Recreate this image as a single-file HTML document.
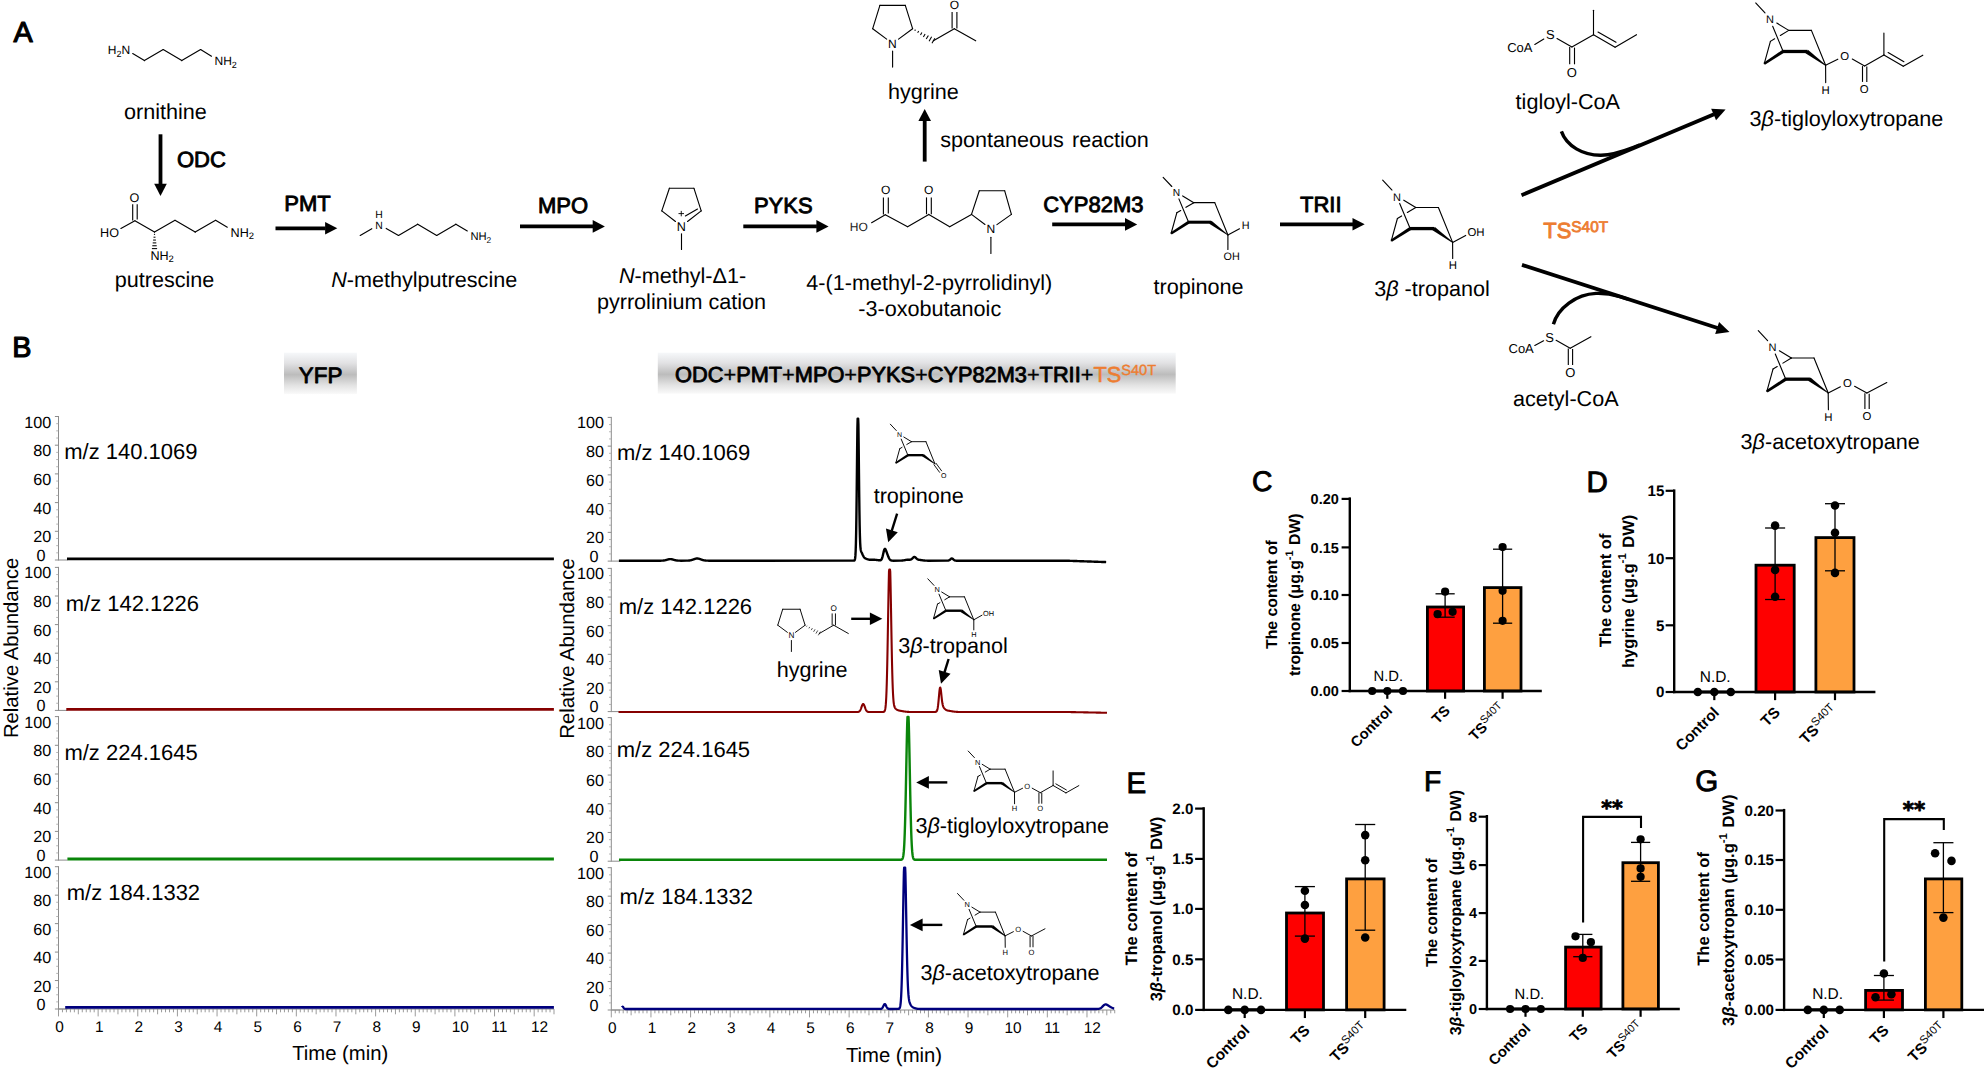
<!DOCTYPE html>
<html lang="en"><head><meta charset="utf-8"><title>Figure</title>
<style>html,body{margin:0;padding:0;background:#fff}svg{display:block}text{font-family:'Liberation Sans', Arial, sans-serif;white-space:pre}</style></head>
<body>
<svg width="1984" height="1069" viewBox="0 0 1984 1069" text-rendering="geometricPrecision">
<rect width="1984" height="1069" fill="#fff"/>
<text x="13.6" y="42.2" font-size="28.8" stroke="#000" stroke-width="1.15" stroke-linejoin="round">A</text>
<text x="107.8" y="54.4" font-size="12">H<tspan font-size="9" dy="2.64">2</tspan><tspan dy="-2.64">N</tspan></text>
<line x1="132.7" y1="53.5" x2="144.4" y2="60.6" stroke="#000" stroke-width="1.12" stroke-linecap="round"/>
<line x1="144.4" y1="60.6" x2="163.2" y2="49.5" stroke="#000" stroke-width="1.12" stroke-linecap="round"/>
<line x1="163.2" y1="49.5" x2="181.8" y2="60.6" stroke="#000" stroke-width="1.12" stroke-linecap="round"/>
<line x1="181.8" y1="60.6" x2="200.6" y2="49.5" stroke="#000" stroke-width="1.12" stroke-linecap="round"/>
<line x1="200.6" y1="49.5" x2="211.5" y2="56.2" stroke="#000" stroke-width="1.12" stroke-linecap="round"/>
<text x="214.5" y="65" font-size="12">NH<tspan font-size="9" dy="2.64">2</tspan></text>
<text x="165.4" y="119.3" font-size="21.6" text-anchor="middle">ornithine</text>
<line x1="160.5" y1="134.3" x2="160.5" y2="184.3" stroke="#000" stroke-width="3.8"/>
<polygon points="160.5,196 154.2,183.8 166.8,183.8" fill="#000"/>
<text x="176.9" y="166.6" font-size="22" stroke="#000" stroke-width="0.88" stroke-linejoin="round">ODC</text>
<text x="134.5" y="201.51" font-size="12.6" text-anchor="middle">O</text>
<line x1="132.7" y1="204.3" x2="132.7" y2="220.6" stroke="#000" stroke-width="1.12"/>
<line x1="137.2" y1="204.3" x2="137.2" y2="219.4" stroke="#000" stroke-width="1.12"/>
<line x1="134.9" y1="220.8" x2="120.9" y2="228.5" stroke="#000" stroke-width="1.12" stroke-linecap="round"/>
<text x="100.1" y="236.6" font-size="12.6">HO</text>
<line x1="134.9" y1="220.8" x2="154.5" y2="232.1" stroke="#000" stroke-width="1.12" stroke-linecap="round"/>
<line x1="154.5" y1="232.1" x2="175" y2="220.3" stroke="#000" stroke-width="1.12" stroke-linecap="round"/>
<line x1="175" y1="220.3" x2="195.2" y2="232.1" stroke="#000" stroke-width="1.12" stroke-linecap="round"/>
<line x1="195.2" y1="232.1" x2="215.6" y2="220.3" stroke="#000" stroke-width="1.12" stroke-linecap="round"/>
<line x1="215.6" y1="220.3" x2="227.3" y2="227.2" stroke="#000" stroke-width="1.12" stroke-linecap="round"/>
<text x="230.6" y="236.5" font-size="12.6">NH<tspan font-size="9.45" dy="2.77">2</tspan></text>
<line x1="155.08" y1="234.34" x2="153.92" y2="234.34" stroke="#000" stroke-width="1.05"/>
<line x1="155.48" y1="237.2" x2="153.52" y2="237.2" stroke="#000" stroke-width="1.05"/>
<line x1="155.89" y1="240.05" x2="153.11" y2="240.05" stroke="#000" stroke-width="1.05"/>
<line x1="156.29" y1="242.9" x2="152.71" y2="242.9" stroke="#000" stroke-width="1.05"/>
<line x1="156.7" y1="245.75" x2="152.3" y2="245.75" stroke="#000" stroke-width="1.05"/>
<line x1="157.1" y1="248.6" x2="151.9" y2="248.6" stroke="#000" stroke-width="1.05"/>
<text x="150.4" y="259.7" font-size="12.6">NH<tspan font-size="9.45" dy="2.77">2</tspan></text>
<text x="164.5" y="286.7" font-size="21.6" text-anchor="middle">putrescine</text>
<line x1="275.5" y1="228.3" x2="325.6" y2="228.3" stroke="#000" stroke-width="3.8"/>
<polygon points="337.3,228.3 325.1,234.6 325.1,222" fill="#000"/>
<text x="284.3" y="210.5" font-size="22" stroke="#000" stroke-width="0.88" stroke-linejoin="round">PMT</text>
<text x="378.9" y="217.52" font-size="10.4" text-anchor="middle">H</text>
<text x="378.9" y="228.62" font-size="10.4" text-anchor="middle">N</text>
<line x1="360.2" y1="235.5" x2="371.8" y2="228.7" stroke="#000" stroke-width="1.12" stroke-linecap="round"/>
<line x1="386.2" y1="228.4" x2="398.5" y2="235.5" stroke="#000" stroke-width="1.12" stroke-linecap="round"/>
<line x1="398.5" y1="235.5" x2="417.7" y2="224.2" stroke="#000" stroke-width="1.12" stroke-linecap="round"/>
<line x1="417.7" y1="224.2" x2="436.7" y2="235.5" stroke="#000" stroke-width="1.12" stroke-linecap="round"/>
<line x1="436.7" y1="235.5" x2="455.9" y2="224.2" stroke="#000" stroke-width="1.12" stroke-linecap="round"/>
<line x1="455.9" y1="224.2" x2="467.3" y2="230.9" stroke="#000" stroke-width="1.12" stroke-linecap="round"/>
<text x="470.4" y="240.2" font-size="11.2">NH<tspan font-size="8.4" dy="2.46">2</tspan></text>
<text x="331.2" y="287" font-size="21.6"><tspan font-style="italic">N</tspan>-methylputrescine</text>
<line x1="520" y1="226.4" x2="593.2" y2="226.4" stroke="#000" stroke-width="3.8"/>
<polygon points="604.9,226.4 592.7,232.7 592.7,220.1" fill="#000"/>
<text x="537.9" y="212.8" font-size="22" stroke="#000" stroke-width="0.88" stroke-linejoin="round">MPO</text>
<line x1="669.4" y1="188.2" x2="693.9" y2="188.2" stroke="#000" stroke-width="1.12" stroke-linecap="round"/>
<line x1="693.9" y1="188.2" x2="701.2" y2="210.9" stroke="#000" stroke-width="1.12" stroke-linecap="round"/>
<line x1="669.4" y1="188.2" x2="661.8" y2="210.9" stroke="#000" stroke-width="1.12" stroke-linecap="round"/>
<line x1="661.8" y1="210.9" x2="675.48" y2="221.46" stroke="#000" stroke-width="1.12" stroke-linecap="round"/>
<line x1="701.2" y1="210.9" x2="687.52" y2="221.46" stroke="#000" stroke-width="1.12" stroke-linecap="round"/>
<line x1="697.5" y1="209" x2="685.4" y2="216" stroke="#000" stroke-width="1.12" stroke-linecap="round"/>
<text x="681.3" y="230.71" font-size="12.6" text-anchor="middle">N</text>
<line x1="678.5" y1="213.6" x2="684" y2="213.6" stroke="#000" stroke-width="0.9"/>
<line x1="681.25" y1="210.9" x2="681.25" y2="216.3" stroke="#000" stroke-width="0.9"/>
<line x1="681.5" y1="233.8" x2="681.5" y2="249.5" stroke="#000" stroke-width="1.12" stroke-linecap="round"/>
<text x="682.5" y="282.9" font-size="21.6" text-anchor="middle"><tspan font-style="italic">N</tspan>-methyl-Δ1-</text>
<text x="681.5" y="308.6" font-size="21.6" text-anchor="middle">pyrrolinium cation</text>
<line x1="743.3" y1="226.4" x2="816.9" y2="226.4" stroke="#000" stroke-width="3.8"/>
<polygon points="828.6,226.4 816.4,232.7 816.4,220.1" fill="#000"/>
<text x="753.9" y="213.1" font-size="22" stroke="#000" stroke-width="0.88" stroke-linejoin="round">PYKS</text>
<text x="849.8" y="230.7" font-size="12" fill="#222">HO</text>
<line x1="871.6" y1="222.7" x2="885.3" y2="214.8" stroke="#000" stroke-width="1.12" stroke-linecap="round"/>
<line x1="883.4" y1="197.4" x2="883.4" y2="214.6" stroke="#000" stroke-width="1.12"/>
<line x1="888.3" y1="197.4" x2="888.3" y2="213.4" stroke="#000" stroke-width="1.12"/>
<text x="885.7" y="194.2" font-size="12" text-anchor="middle">O</text>
<line x1="885.3" y1="214.8" x2="907.6" y2="226.7" stroke="#000" stroke-width="1.12" stroke-linecap="round"/>
<line x1="907.6" y1="226.7" x2="928.8" y2="214.4" stroke="#000" stroke-width="1.12" stroke-linecap="round"/>
<line x1="928.8" y1="214.4" x2="949.7" y2="226.7" stroke="#000" stroke-width="1.12" stroke-linecap="round"/>
<line x1="949.7" y1="226.7" x2="971.5" y2="214.4" stroke="#000" stroke-width="1.12" stroke-linecap="round"/>
<line x1="926.5" y1="197.4" x2="926.5" y2="214.2" stroke="#000" stroke-width="1.12"/>
<line x1="931.3" y1="197.4" x2="931.3" y2="214.2" stroke="#000" stroke-width="1.12"/>
<text x="928.6" y="194.2" font-size="12" text-anchor="middle">O</text>
<line x1="971.5" y1="214.4" x2="979.3" y2="190.8" stroke="#000" stroke-width="1.12" stroke-linecap="round"/>
<line x1="979.3" y1="190.8" x2="1004.7" y2="190.8" stroke="#000" stroke-width="1.12" stroke-linecap="round"/>
<line x1="1004.7" y1="190.8" x2="1011.4" y2="214.4" stroke="#000" stroke-width="1.12" stroke-linecap="round"/>
<line x1="971.5" y1="214.4" x2="984.97" y2="224.47" stroke="#000" stroke-width="1.12" stroke-linecap="round"/>
<line x1="1011.4" y1="214.4" x2="996.94" y2="224.63" stroke="#000" stroke-width="1.12" stroke-linecap="round"/>
<text x="990.9" y="233.1" font-size="12" text-anchor="middle">N</text>
<line x1="990.9" y1="237.2" x2="990.9" y2="253.4" stroke="#000" stroke-width="1.12" stroke-linecap="round"/>
<text x="929.3" y="289.7" font-size="21.6" text-anchor="middle">4-(1-methyl-2-pyrrolidinyl)</text>
<text x="929.8" y="315.6" font-size="21.6" text-anchor="middle">-3-oxobutanoic</text>
<line x1="1052.2" y1="224.4" x2="1125.5" y2="224.4" stroke="#000" stroke-width="3.8"/>
<polygon points="1137.2,224.4 1125,230.7 1125,218.1" fill="#000"/>
<text x="1043.2" y="211.6" font-size="22" stroke="#000" stroke-width="0.88" stroke-linejoin="round">CYP82M3</text>
<line x1="879.9" y1="5.4" x2="905.3" y2="5.4" stroke="#000" stroke-width="1.12" stroke-linecap="round"/>
<line x1="905.3" y1="5.4" x2="912.6" y2="28.7" stroke="#000" stroke-width="1.12" stroke-linecap="round"/>
<line x1="879.9" y1="5.4" x2="872.7" y2="28.7" stroke="#000" stroke-width="1.12" stroke-linecap="round"/>
<line x1="872.7" y1="28.7" x2="886.66" y2="39.08" stroke="#000" stroke-width="1.12" stroke-linecap="round"/>
<line x1="912.6" y1="28.7" x2="898.55" y2="39.1" stroke="#000" stroke-width="1.12" stroke-linecap="round"/>
<text x="892.4" y="47.5" font-size="12" text-anchor="middle">N</text>
<line x1="892.6" y1="51" x2="892.6" y2="67.1" stroke="#000" stroke-width="1.12" stroke-linecap="round"/>
<line x1="915.4" y1="29.62" x2="914.79" y2="30.68" stroke="#000" stroke-width="1.05"/>
<line x1="918.65" y1="31.07" x2="917.65" y2="32.79" stroke="#000" stroke-width="1.05"/>
<line x1="921.89" y1="32.51" x2="920.51" y2="34.89" stroke="#000" stroke-width="1.05"/>
<line x1="925.13" y1="33.96" x2="923.37" y2="36.99" stroke="#000" stroke-width="1.05"/>
<line x1="928.37" y1="35.4" x2="926.22" y2="39.1" stroke="#000" stroke-width="1.05"/>
<line x1="931.62" y1="36.85" x2="929.08" y2="41.2" stroke="#000" stroke-width="1.05"/>
<line x1="934.86" y1="38.29" x2="931.94" y2="43.31" stroke="#000" stroke-width="1.05"/>
<line x1="933.4" y1="40.8" x2="954.3" y2="28.7" stroke="#000" stroke-width="1.12" stroke-linecap="round"/>
<line x1="954.3" y1="28.7" x2="975.7" y2="40.8" stroke="#000" stroke-width="1.12" stroke-linecap="round"/>
<line x1="952.1" y1="11.9" x2="952.1" y2="28.4" stroke="#000" stroke-width="1.12"/>
<line x1="956.9" y1="11.9" x2="956.9" y2="28.4" stroke="#000" stroke-width="1.12"/>
<text x="954.4" y="8.5" font-size="12" text-anchor="middle">O</text>
<text x="923.4" y="98.9" font-size="21.6" text-anchor="middle">hygrine</text>
<line x1="924.7" y1="161.6" x2="924.7" y2="120.6" stroke="#000" stroke-width="3.8"/>
<polygon points="924.7,108.9 931,121.1 918.4,121.1" fill="#000"/>
<text x="940.2" y="146.6" font-size="21.6" word-spacing="2.2">spontaneous reaction</text>
<line x1="1163.15" y1="177.3" x2="1171.8" y2="186.5" stroke="#000" stroke-width="1.12" stroke-linecap="round"/>
<text x="1176.4" y="196.25" font-size="10.2" text-anchor="middle">N</text>
<line x1="1182.7" y1="195.9" x2="1193.8" y2="202.65" stroke="#000" stroke-width="1.12" stroke-linecap="round"/>
<line x1="1193.8" y1="202.65" x2="1214.75" y2="202.65" stroke="#000" stroke-width="1.12" stroke-linecap="round"/>
<line x1="1214.75" y1="202.65" x2="1227.9" y2="235" stroke="#000" stroke-width="1.12" stroke-linecap="round"/>
<line x1="1178.9" y1="198.9" x2="1188.6" y2="222.2" stroke="#000" stroke-width="1.12" stroke-linecap="round"/>
<line x1="1193.8" y1="202.65" x2="1185.98" y2="207.34" stroke="#000" stroke-width="1.12" stroke-linecap="round"/>
<line x1="1180.71" y1="210.5" x2="1176.8" y2="212.85" stroke="#000" stroke-width="1.12" stroke-linecap="round"/>
<line x1="1176.8" y1="212.85" x2="1171.1" y2="233.5" stroke="#000" stroke-width="1.12" stroke-linecap="round"/>
<polygon points="1171.72,234.46 1189.43,223.48 1187.77,220.92 1170.48,232.54" fill="#000"/>
<line x1="1188.14" y1="222.2" x2="1211.01" y2="222.2" stroke="#000" stroke-width="3.05"/>
<polygon points="1209.27,223.74 1227.64,235.36 1228.16,234.64 1211.53,220.66" fill="#000"/>
<line x1="1227.9" y1="235" x2="1239.5" y2="228.8" stroke="#000" stroke-width="1.12" stroke-linecap="round"/>
<text x="1245.6" y="229.27" font-size="10.8" text-anchor="middle">H</text>
<line x1="1227.9" y1="235" x2="1227.9" y2="249.4" stroke="#000" stroke-width="1.12" stroke-linecap="round"/>
<text x="1223.6" y="259.7" font-size="10.8">OH</text>
<text x="1198.5" y="293.8" font-size="21.6" text-anchor="middle">tropinone</text>
<line x1="1280" y1="224.3" x2="1353" y2="224.3" stroke="#000" stroke-width="3.8"/>
<polygon points="1364.7,224.3 1352.5,230.6 1352.5,218" fill="#000"/>
<text x="1300" y="211.7" font-size="22" stroke="#000" stroke-width="0.88" stroke-linejoin="round">TRII</text>
<line x1="1382.67" y1="180.08" x2="1392.01" y2="190.02" stroke="#000" stroke-width="1.12" stroke-linecap="round"/>
<text x="1396.98" y="200.55" font-size="11" text-anchor="middle">N</text>
<line x1="1403.78" y1="200.17" x2="1415.77" y2="207.46" stroke="#000" stroke-width="1.12" stroke-linecap="round"/>
<line x1="1415.77" y1="207.46" x2="1438.4" y2="207.46" stroke="#000" stroke-width="1.12" stroke-linecap="round"/>
<line x1="1438.4" y1="207.46" x2="1452.6" y2="242.4" stroke="#000" stroke-width="1.12" stroke-linecap="round"/>
<line x1="1399.68" y1="203.41" x2="1410.16" y2="228.58" stroke="#000" stroke-width="1.12" stroke-linecap="round"/>
<line x1="1415.77" y1="207.46" x2="1407.33" y2="212.53" stroke="#000" stroke-width="1.12" stroke-linecap="round"/>
<line x1="1401.63" y1="215.94" x2="1397.41" y2="218.48" stroke="#000" stroke-width="1.12" stroke-linecap="round"/>
<line x1="1397.41" y1="218.48" x2="1391.26" y2="240.78" stroke="#000" stroke-width="1.12" stroke-linecap="round"/>
<polygon points="1391.93,241.82 1411.05,229.96 1409.26,227.19 1390.59,239.74" fill="#000"/>
<line x1="1409.66" y1="228.58" x2="1434.36" y2="228.58" stroke="#000" stroke-width="3.29"/>
<polygon points="1432.48,230.24 1452.34,242.76 1452.86,242.04 1434.92,226.91" fill="#000"/>
<line x1="1452.6" y1="242.4" x2="1465.7" y2="235.4" stroke="#000" stroke-width="1.12" stroke-linecap="round"/>
<text x="1467.4" y="236.4" font-size="11.4">OH</text>
<line x1="1452.6" y1="242.4" x2="1452.7" y2="258.4" stroke="#000" stroke-width="1.12" stroke-linecap="round"/>
<text x="1452.8" y="269.28" font-size="11.4" text-anchor="middle">H</text>
<text x="1374.2" y="296.1" font-size="21.6">3<tspan font-style="italic">β</tspan> -tropanol</text>
<line x1="1521.5" y1="195.2" x2="1714.08" y2="114.24" stroke="#000" stroke-width="3.8"/>
<polygon points="1725.6,109.4 1716.06,120.25 1711.17,108.63" fill="#000"/>
<path d="M1561.4,131.4 C1566.5,146 1583,155.4 1601,155.2 C1611,155.1 1621,152.2 1633,147.6 L1640,144.8" fill="none" stroke="#000" stroke-width="3.4" stroke-linejoin="round" stroke-linecap="butt"/>
<line x1="1522" y1="264.9" x2="1717.6" y2="328.06" stroke="#000" stroke-width="3.8"/>
<polygon points="1729.5,331.9 1715.19,333.9 1719.06,321.91" fill="#000"/>
<path d="M1553.4,324.2 C1558,308 1576,294.3 1596,293.4 C1604,293.1 1612,294.3 1620,296.7 L1628,299.2" fill="none" stroke="#000" stroke-width="3.4" stroke-linejoin="round" stroke-linecap="butt"/>
<text x="1543.2" y="238.3" font-size="22" fill="#ED7D31" stroke="#ED7D31" stroke-width="0.88" stroke-linejoin="round">TS<tspan font-size="15.4" dy="-6.3" stroke-width="0.8">S40T</tspan></text>
<text x="1507.2" y="52.2" font-size="13">CoA</text>
<line x1="1534.8" y1="44.5" x2="1543.8" y2="39.1" stroke="#000" stroke-width="1.12" stroke-linecap="round"/>
<text x="1550.4" y="39.35" font-size="13" text-anchor="middle">S</text>
<line x1="1557" y1="38.6" x2="1571.9" y2="46.9" stroke="#000" stroke-width="1.12" stroke-linecap="round"/>
<line x1="1569.7" y1="47.1" x2="1569.7" y2="64.3" stroke="#000" stroke-width="1.12"/>
<line x1="1574.5" y1="47.6" x2="1574.5" y2="64.3" stroke="#000" stroke-width="1.12"/>
<text x="1571.9" y="76.85" font-size="13" text-anchor="middle">O</text>
<line x1="1571.9" y1="46.9" x2="1593.5" y2="34.7" stroke="#000" stroke-width="1.12" stroke-linecap="round"/>
<line x1="1593.5" y1="34.7" x2="1593.5" y2="10.2" stroke="#000" stroke-width="1.12" stroke-linecap="round"/>
<line x1="1593.5" y1="34.7" x2="1615.1" y2="47.2" stroke="#000" stroke-width="1.12" stroke-linecap="round"/>
<line x1="1615.1" y1="47.2" x2="1636.5" y2="34.7" stroke="#000" stroke-width="1.12" stroke-linecap="round"/>
<line x1="1598" y1="32" x2="1616" y2="42.3" stroke="#000" stroke-width="1.12" stroke-linecap="round"/>
<text x="1567.8" y="108.8" font-size="21.6" text-anchor="middle">tigloyl-CoA</text>
<line x1="1755.67" y1="2.98" x2="1765.01" y2="12.92" stroke="#000" stroke-width="1.12" stroke-linecap="round"/>
<text x="1769.98" y="23.45" font-size="11" text-anchor="middle">N</text>
<line x1="1776.78" y1="23.07" x2="1788.77" y2="30.36" stroke="#000" stroke-width="1.12" stroke-linecap="round"/>
<line x1="1788.77" y1="30.36" x2="1811.4" y2="30.36" stroke="#000" stroke-width="1.12" stroke-linecap="round"/>
<line x1="1811.4" y1="30.36" x2="1825.6" y2="65.3" stroke="#000" stroke-width="1.12" stroke-linecap="round"/>
<line x1="1772.68" y1="26.31" x2="1783.16" y2="51.48" stroke="#000" stroke-width="1.12" stroke-linecap="round"/>
<line x1="1788.77" y1="30.36" x2="1780.33" y2="35.43" stroke="#000" stroke-width="1.12" stroke-linecap="round"/>
<line x1="1774.63" y1="38.84" x2="1770.41" y2="41.38" stroke="#000" stroke-width="1.12" stroke-linecap="round"/>
<line x1="1770.41" y1="41.38" x2="1764.26" y2="63.68" stroke="#000" stroke-width="1.12" stroke-linecap="round"/>
<polygon points="1764.93,64.72 1784.05,52.86 1782.26,50.09 1763.59,62.64" fill="#000"/>
<line x1="1782.66" y1="51.48" x2="1807.36" y2="51.48" stroke="#000" stroke-width="3.29"/>
<polygon points="1805.48,53.14 1825.34,65.66 1825.86,64.94 1807.92,49.81" fill="#000"/>
<line x1="1825.6" y1="65.3" x2="1837.8" y2="59.2" stroke="#000" stroke-width="1.12" stroke-linecap="round"/>
<text x="1844.8" y="59.78" font-size="11.4" text-anchor="middle">O</text>
<line x1="1852.3" y1="59.1" x2="1864.6" y2="65.9" stroke="#000" stroke-width="1.12" stroke-linecap="round"/>
<line x1="1862.5" y1="66.1" x2="1862.5" y2="81.9" stroke="#000" stroke-width="1.12"/>
<line x1="1866.8" y1="66.6" x2="1866.8" y2="81.9" stroke="#000" stroke-width="1.12"/>
<text x="1864.3" y="93.28" font-size="11.4" text-anchor="middle">O</text>
<line x1="1864.6" y1="65.9" x2="1883.9" y2="55" stroke="#000" stroke-width="1.12" stroke-linecap="round"/>
<line x1="1883.9" y1="55" x2="1883.9" y2="33" stroke="#000" stroke-width="1.12" stroke-linecap="round"/>
<line x1="1883.9" y1="55" x2="1903.3" y2="66.2" stroke="#000" stroke-width="1.12" stroke-linecap="round"/>
<line x1="1903.3" y1="66.2" x2="1922.8" y2="55.2" stroke="#000" stroke-width="1.12" stroke-linecap="round"/>
<line x1="1888.1" y1="52.6" x2="1903.9" y2="61.7" stroke="#000" stroke-width="1.12" stroke-linecap="round"/>
<line x1="1825.6" y1="65.3" x2="1825.7" y2="82.6" stroke="#000" stroke-width="1.12" stroke-linecap="round"/>
<text x="1825.7" y="93.58" font-size="11.4" text-anchor="middle">H</text>
<text x="1749.6" y="125.5" font-size="21.6">3<tspan font-style="italic">β</tspan>-tigloyloxytropane</text>
<text x="1508.5" y="352.8" font-size="13">CoA</text>
<line x1="1534.8" y1="345.5" x2="1543.6" y2="340.8" stroke="#000" stroke-width="1.12" stroke-linecap="round"/>
<text x="1549.7" y="341.65" font-size="13" text-anchor="middle">S</text>
<line x1="1556.1" y1="340.3" x2="1570.2" y2="348.2" stroke="#000" stroke-width="1.12" stroke-linecap="round"/>
<line x1="1568.3" y1="348.4" x2="1568.3" y2="364.9" stroke="#000" stroke-width="1.12"/>
<line x1="1572.6" y1="348.9" x2="1572.6" y2="364.9" stroke="#000" stroke-width="1.12"/>
<text x="1570.2" y="376.85" font-size="13" text-anchor="middle">O</text>
<line x1="1570.2" y1="348.2" x2="1590.9" y2="336.7" stroke="#000" stroke-width="1.12" stroke-linecap="round"/>
<text x="1565.8" y="405.5" font-size="21.6" text-anchor="middle">acetyl-CoA</text>
<line x1="1758.27" y1="330.68" x2="1767.61" y2="340.62" stroke="#000" stroke-width="1.12" stroke-linecap="round"/>
<text x="1772.58" y="351.15" font-size="11" text-anchor="middle">N</text>
<line x1="1779.38" y1="350.77" x2="1791.37" y2="358.06" stroke="#000" stroke-width="1.12" stroke-linecap="round"/>
<line x1="1791.37" y1="358.06" x2="1814" y2="358.06" stroke="#000" stroke-width="1.12" stroke-linecap="round"/>
<line x1="1814" y1="358.06" x2="1828.2" y2="393" stroke="#000" stroke-width="1.12" stroke-linecap="round"/>
<line x1="1775.28" y1="354.01" x2="1785.76" y2="379.18" stroke="#000" stroke-width="1.12" stroke-linecap="round"/>
<line x1="1791.37" y1="358.06" x2="1782.93" y2="363.13" stroke="#000" stroke-width="1.12" stroke-linecap="round"/>
<line x1="1777.23" y1="366.54" x2="1773.01" y2="369.08" stroke="#000" stroke-width="1.12" stroke-linecap="round"/>
<line x1="1773.01" y1="369.08" x2="1766.86" y2="391.38" stroke="#000" stroke-width="1.12" stroke-linecap="round"/>
<polygon points="1767.53,392.42 1786.65,380.56 1784.86,377.79 1766.19,390.34" fill="#000"/>
<line x1="1785.26" y1="379.18" x2="1809.96" y2="379.18" stroke="#000" stroke-width="3.29"/>
<polygon points="1808.08,380.84 1827.94,393.36 1828.46,392.64 1810.52,377.51" fill="#000"/>
<line x1="1828.2" y1="393" x2="1840.4" y2="386.8" stroke="#000" stroke-width="1.12" stroke-linecap="round"/>
<text x="1847.4" y="387.28" font-size="11.4" text-anchor="middle">O</text>
<line x1="1854.6" y1="386.3" x2="1866.9" y2="393.1" stroke="#000" stroke-width="1.12" stroke-linecap="round"/>
<line x1="1864.9" y1="393.3" x2="1864.9" y2="409.1" stroke="#000" stroke-width="1.12"/>
<line x1="1869.2" y1="393.8" x2="1869.2" y2="409.1" stroke="#000" stroke-width="1.12"/>
<text x="1866.9" y="420.48" font-size="11.4" text-anchor="middle">O</text>
<line x1="1866.9" y1="393.1" x2="1886.8" y2="382.6" stroke="#000" stroke-width="1.12" stroke-linecap="round"/>
<line x1="1828.2" y1="393" x2="1828.4" y2="409.8" stroke="#000" stroke-width="1.12" stroke-linecap="round"/>
<text x="1828.4" y="420.78" font-size="11.4" text-anchor="middle">H</text>
<text x="1740.6" y="449.1" font-size="21.6">3<tspan font-style="italic">β</tspan>-acetoxytropane</text>
<text x="12.3" y="357.1" font-size="28.8" stroke="#000" stroke-width="1.15" stroke-linejoin="round">B</text>
<defs><linearGradient id="g1" x1="0" y1="0" x2="0" y2="1"><stop offset="0" stop-color="#f6f8fa"/><stop offset="0.25" stop-color="#e2e2e4"/><stop offset="0.53" stop-color="#bcbcbc"/><stop offset="0.8" stop-color="#e4e4e4"/><stop offset="1" stop-color="#fafafa"/></linearGradient></defs>
<rect x="284" y="352.7" width="72.9" height="41.4" fill="url(#g1)"/>
<text x="320.6" y="382.9" font-size="22.4" text-anchor="middle" stroke="#000" stroke-width="0.9" stroke-linejoin="round">YFP</text>
<defs><linearGradient id="g2" x1="0" y1="0" x2="0" y2="1"><stop offset="0" stop-color="#f6f8fa"/><stop offset="0.25" stop-color="#e2e2e4"/><stop offset="0.53" stop-color="#bcbcbc"/><stop offset="0.8" stop-color="#e4e4e4"/><stop offset="1" stop-color="#fafafa"/></linearGradient></defs>
<rect x="657.8" y="352.7" width="517.9" height="41" fill="url(#g2)"/>
<text x="675.1" y="382.2" font-size="21.75" stroke="#000" stroke-width="0.87" stroke-linejoin="round">ODC<tspan stroke-width="0.3">+</tspan>PMT<tspan stroke-width="0.3">+</tspan>MPO<tspan stroke-width="0.3">+</tspan>PYKS<tspan stroke-width="0.3">+</tspan>CYP82M3<tspan stroke-width="0.3">+</tspan>TRII<tspan stroke-width="0.3">+</tspan><tspan fill="#ED7D31" stroke="#ED7D31" stroke-width="0.6">TS<tspan font-size="14.6" dy="-7.0" stroke-width="0.4">S40T</tspan></tspan></text>
<line x1="58.5" y1="416" x2="58.5" y2="560.5" stroke="#8c8c8c" stroke-width="1"/>
<line x1="58.5" y1="560" x2="67.5" y2="560" stroke="#8c8c8c" stroke-width="1"/>
<line x1="54.9" y1="416.5" x2="58.5" y2="416.5" stroke="#8c8c8c" stroke-width="1"/>
<line x1="56.2" y1="423.68" x2="58.5" y2="423.68" stroke="#a5a5a5" stroke-width="0.8"/>
<line x1="56.2" y1="430.85" x2="58.5" y2="430.85" stroke="#a5a5a5" stroke-width="0.8"/>
<line x1="56.2" y1="438.02" x2="58.5" y2="438.02" stroke="#a5a5a5" stroke-width="0.8"/>
<line x1="54.9" y1="445.2" x2="58.5" y2="445.2" stroke="#8c8c8c" stroke-width="1"/>
<line x1="56.2" y1="452.38" x2="58.5" y2="452.38" stroke="#a5a5a5" stroke-width="0.8"/>
<line x1="56.2" y1="459.55" x2="58.5" y2="459.55" stroke="#a5a5a5" stroke-width="0.8"/>
<line x1="56.2" y1="466.73" x2="58.5" y2="466.73" stroke="#a5a5a5" stroke-width="0.8"/>
<line x1="54.9" y1="473.9" x2="58.5" y2="473.9" stroke="#8c8c8c" stroke-width="1"/>
<line x1="56.2" y1="481.07" x2="58.5" y2="481.07" stroke="#a5a5a5" stroke-width="0.8"/>
<line x1="56.2" y1="488.25" x2="58.5" y2="488.25" stroke="#a5a5a5" stroke-width="0.8"/>
<line x1="56.2" y1="495.43" x2="58.5" y2="495.43" stroke="#a5a5a5" stroke-width="0.8"/>
<line x1="54.9" y1="502.6" x2="58.5" y2="502.6" stroke="#8c8c8c" stroke-width="1"/>
<line x1="56.2" y1="509.77" x2="58.5" y2="509.77" stroke="#a5a5a5" stroke-width="0.8"/>
<line x1="56.2" y1="516.95" x2="58.5" y2="516.95" stroke="#a5a5a5" stroke-width="0.8"/>
<line x1="56.2" y1="524.12" x2="58.5" y2="524.12" stroke="#a5a5a5" stroke-width="0.8"/>
<line x1="54.9" y1="531.3" x2="58.5" y2="531.3" stroke="#8c8c8c" stroke-width="1"/>
<line x1="56.2" y1="538.48" x2="58.5" y2="538.48" stroke="#a5a5a5" stroke-width="0.8"/>
<line x1="56.2" y1="545.65" x2="58.5" y2="545.65" stroke="#a5a5a5" stroke-width="0.8"/>
<line x1="56.2" y1="552.83" x2="58.5" y2="552.83" stroke="#a5a5a5" stroke-width="0.8"/>
<line x1="54.9" y1="560" x2="58.5" y2="560" stroke="#8c8c8c" stroke-width="1"/>
<text x="51.3" y="427.5" font-size="16.2" text-anchor="end">100</text>
<text x="51.3" y="456.2" font-size="16.2" text-anchor="end">80</text>
<text x="51.3" y="484.9" font-size="16.2" text-anchor="end">60</text>
<text x="51.3" y="513.6" font-size="16.2" text-anchor="end">40</text>
<text x="51.3" y="542.3" font-size="16.2" text-anchor="end">20</text>
<text x="45.6" y="560.6" font-size="16.2" text-anchor="end">0</text>
<line x1="58.5" y1="566.9" x2="58.5" y2="710.9" stroke="#8c8c8c" stroke-width="1"/>
<line x1="58.5" y1="710.4" x2="67.5" y2="710.4" stroke="#8c8c8c" stroke-width="1"/>
<line x1="54.9" y1="567.4" x2="58.5" y2="567.4" stroke="#8c8c8c" stroke-width="1"/>
<line x1="56.2" y1="574.55" x2="58.5" y2="574.55" stroke="#a5a5a5" stroke-width="0.8"/>
<line x1="56.2" y1="581.7" x2="58.5" y2="581.7" stroke="#a5a5a5" stroke-width="0.8"/>
<line x1="56.2" y1="588.85" x2="58.5" y2="588.85" stroke="#a5a5a5" stroke-width="0.8"/>
<line x1="54.9" y1="596" x2="58.5" y2="596" stroke="#8c8c8c" stroke-width="1"/>
<line x1="56.2" y1="603.15" x2="58.5" y2="603.15" stroke="#a5a5a5" stroke-width="0.8"/>
<line x1="56.2" y1="610.3" x2="58.5" y2="610.3" stroke="#a5a5a5" stroke-width="0.8"/>
<line x1="56.2" y1="617.45" x2="58.5" y2="617.45" stroke="#a5a5a5" stroke-width="0.8"/>
<line x1="54.9" y1="624.6" x2="58.5" y2="624.6" stroke="#8c8c8c" stroke-width="1"/>
<line x1="56.2" y1="631.75" x2="58.5" y2="631.75" stroke="#a5a5a5" stroke-width="0.8"/>
<line x1="56.2" y1="638.9" x2="58.5" y2="638.9" stroke="#a5a5a5" stroke-width="0.8"/>
<line x1="56.2" y1="646.05" x2="58.5" y2="646.05" stroke="#a5a5a5" stroke-width="0.8"/>
<line x1="54.9" y1="653.2" x2="58.5" y2="653.2" stroke="#8c8c8c" stroke-width="1"/>
<line x1="56.2" y1="660.35" x2="58.5" y2="660.35" stroke="#a5a5a5" stroke-width="0.8"/>
<line x1="56.2" y1="667.5" x2="58.5" y2="667.5" stroke="#a5a5a5" stroke-width="0.8"/>
<line x1="56.2" y1="674.65" x2="58.5" y2="674.65" stroke="#a5a5a5" stroke-width="0.8"/>
<line x1="54.9" y1="681.8" x2="58.5" y2="681.8" stroke="#8c8c8c" stroke-width="1"/>
<line x1="56.2" y1="688.95" x2="58.5" y2="688.95" stroke="#a5a5a5" stroke-width="0.8"/>
<line x1="56.2" y1="696.1" x2="58.5" y2="696.1" stroke="#a5a5a5" stroke-width="0.8"/>
<line x1="56.2" y1="703.25" x2="58.5" y2="703.25" stroke="#a5a5a5" stroke-width="0.8"/>
<line x1="54.9" y1="710.4" x2="58.5" y2="710.4" stroke="#8c8c8c" stroke-width="1"/>
<text x="51.3" y="578.4" font-size="16.2" text-anchor="end">100</text>
<text x="51.3" y="607" font-size="16.2" text-anchor="end">80</text>
<text x="51.3" y="635.6" font-size="16.2" text-anchor="end">60</text>
<text x="51.3" y="664.2" font-size="16.2" text-anchor="end">40</text>
<text x="51.3" y="692.8" font-size="16.2" text-anchor="end">20</text>
<text x="45.6" y="711" font-size="16.2" text-anchor="end">0</text>
<line x1="58.5" y1="716.1" x2="58.5" y2="860.6" stroke="#8c8c8c" stroke-width="1"/>
<line x1="58.5" y1="860.1" x2="67.5" y2="860.1" stroke="#8c8c8c" stroke-width="1"/>
<line x1="54.9" y1="716.6" x2="58.5" y2="716.6" stroke="#8c8c8c" stroke-width="1"/>
<line x1="56.2" y1="723.77" x2="58.5" y2="723.77" stroke="#a5a5a5" stroke-width="0.8"/>
<line x1="56.2" y1="730.95" x2="58.5" y2="730.95" stroke="#a5a5a5" stroke-width="0.8"/>
<line x1="56.2" y1="738.12" x2="58.5" y2="738.12" stroke="#a5a5a5" stroke-width="0.8"/>
<line x1="54.9" y1="745.3" x2="58.5" y2="745.3" stroke="#8c8c8c" stroke-width="1"/>
<line x1="56.2" y1="752.48" x2="58.5" y2="752.48" stroke="#a5a5a5" stroke-width="0.8"/>
<line x1="56.2" y1="759.65" x2="58.5" y2="759.65" stroke="#a5a5a5" stroke-width="0.8"/>
<line x1="56.2" y1="766.83" x2="58.5" y2="766.83" stroke="#a5a5a5" stroke-width="0.8"/>
<line x1="54.9" y1="774" x2="58.5" y2="774" stroke="#8c8c8c" stroke-width="1"/>
<line x1="56.2" y1="781.18" x2="58.5" y2="781.18" stroke="#a5a5a5" stroke-width="0.8"/>
<line x1="56.2" y1="788.35" x2="58.5" y2="788.35" stroke="#a5a5a5" stroke-width="0.8"/>
<line x1="56.2" y1="795.52" x2="58.5" y2="795.52" stroke="#a5a5a5" stroke-width="0.8"/>
<line x1="54.9" y1="802.7" x2="58.5" y2="802.7" stroke="#8c8c8c" stroke-width="1"/>
<line x1="56.2" y1="809.88" x2="58.5" y2="809.88" stroke="#a5a5a5" stroke-width="0.8"/>
<line x1="56.2" y1="817.05" x2="58.5" y2="817.05" stroke="#a5a5a5" stroke-width="0.8"/>
<line x1="56.2" y1="824.23" x2="58.5" y2="824.23" stroke="#a5a5a5" stroke-width="0.8"/>
<line x1="54.9" y1="831.4" x2="58.5" y2="831.4" stroke="#8c8c8c" stroke-width="1"/>
<line x1="56.2" y1="838.58" x2="58.5" y2="838.58" stroke="#a5a5a5" stroke-width="0.8"/>
<line x1="56.2" y1="845.75" x2="58.5" y2="845.75" stroke="#a5a5a5" stroke-width="0.8"/>
<line x1="56.2" y1="852.92" x2="58.5" y2="852.92" stroke="#a5a5a5" stroke-width="0.8"/>
<line x1="54.9" y1="860.1" x2="58.5" y2="860.1" stroke="#8c8c8c" stroke-width="1"/>
<text x="51.3" y="727.6" font-size="16.2" text-anchor="end">100</text>
<text x="51.3" y="756.3" font-size="16.2" text-anchor="end">80</text>
<text x="51.3" y="785" font-size="16.2" text-anchor="end">60</text>
<text x="51.3" y="813.7" font-size="16.2" text-anchor="end">40</text>
<text x="51.3" y="842.4" font-size="16.2" text-anchor="end">20</text>
<text x="45.6" y="860.7" font-size="16.2" text-anchor="end">0</text>
<line x1="58.5" y1="866.2" x2="58.5" y2="1009.5" stroke="#8c8c8c" stroke-width="1"/>
<line x1="58.5" y1="1009" x2="67.5" y2="1009" stroke="#8c8c8c" stroke-width="1"/>
<line x1="54.9" y1="866.7" x2="58.5" y2="866.7" stroke="#8c8c8c" stroke-width="1"/>
<line x1="56.2" y1="873.82" x2="58.5" y2="873.82" stroke="#a5a5a5" stroke-width="0.8"/>
<line x1="56.2" y1="880.93" x2="58.5" y2="880.93" stroke="#a5a5a5" stroke-width="0.8"/>
<line x1="56.2" y1="888.05" x2="58.5" y2="888.05" stroke="#a5a5a5" stroke-width="0.8"/>
<line x1="54.9" y1="895.16" x2="58.5" y2="895.16" stroke="#8c8c8c" stroke-width="1"/>
<line x1="56.2" y1="902.28" x2="58.5" y2="902.28" stroke="#a5a5a5" stroke-width="0.8"/>
<line x1="56.2" y1="909.39" x2="58.5" y2="909.39" stroke="#a5a5a5" stroke-width="0.8"/>
<line x1="56.2" y1="916.5" x2="58.5" y2="916.5" stroke="#a5a5a5" stroke-width="0.8"/>
<line x1="54.9" y1="923.62" x2="58.5" y2="923.62" stroke="#8c8c8c" stroke-width="1"/>
<line x1="56.2" y1="930.74" x2="58.5" y2="930.74" stroke="#a5a5a5" stroke-width="0.8"/>
<line x1="56.2" y1="937.85" x2="58.5" y2="937.85" stroke="#a5a5a5" stroke-width="0.8"/>
<line x1="56.2" y1="944.97" x2="58.5" y2="944.97" stroke="#a5a5a5" stroke-width="0.8"/>
<line x1="54.9" y1="952.08" x2="58.5" y2="952.08" stroke="#8c8c8c" stroke-width="1"/>
<line x1="56.2" y1="959.2" x2="58.5" y2="959.2" stroke="#a5a5a5" stroke-width="0.8"/>
<line x1="56.2" y1="966.31" x2="58.5" y2="966.31" stroke="#a5a5a5" stroke-width="0.8"/>
<line x1="56.2" y1="973.42" x2="58.5" y2="973.42" stroke="#a5a5a5" stroke-width="0.8"/>
<line x1="54.9" y1="980.54" x2="58.5" y2="980.54" stroke="#8c8c8c" stroke-width="1"/>
<line x1="56.2" y1="987.65" x2="58.5" y2="987.65" stroke="#a5a5a5" stroke-width="0.8"/>
<line x1="56.2" y1="994.77" x2="58.5" y2="994.77" stroke="#a5a5a5" stroke-width="0.8"/>
<line x1="56.2" y1="1001.88" x2="58.5" y2="1001.88" stroke="#a5a5a5" stroke-width="0.8"/>
<line x1="54.9" y1="1009" x2="58.5" y2="1009" stroke="#8c8c8c" stroke-width="1"/>
<text x="51.3" y="877.7" font-size="16.2" text-anchor="end">100</text>
<text x="51.3" y="906.16" font-size="16.2" text-anchor="end">80</text>
<text x="51.3" y="934.62" font-size="16.2" text-anchor="end">60</text>
<text x="51.3" y="963.08" font-size="16.2" text-anchor="end">40</text>
<text x="51.3" y="991.54" font-size="16.2" text-anchor="end">20</text>
<text x="45.6" y="1009.6" font-size="16.2" text-anchor="end">0</text>
<line x1="58.5" y1="1009" x2="554" y2="1009" stroke="#8c8c8c" stroke-width="1"/>
<path d="M58.5,1009v7.4M62.46,1009v3.3M66.43,1009v3.3M70.39,1009v3.3M74.36,1009v3.3M78.32,1009v5.3M82.28,1009v3.3M86.25,1009v3.3M90.21,1009v3.3M94.18,1009v3.3M98.14,1009v7.4M102.1,1009v3.3M106.07,1009v3.3M110.03,1009v3.3M114,1009v3.3M117.96,1009v5.3M121.92,1009v3.3M125.89,1009v3.3M129.85,1009v3.3M133.82,1009v3.3M137.78,1009v7.4M141.74,1009v3.3M145.71,1009v3.3M149.67,1009v3.3M153.64,1009v3.3M157.6,1009v5.3M161.56,1009v3.3M165.53,1009v3.3M169.49,1009v3.3M173.46,1009v3.3M177.42,1009v7.4M181.38,1009v3.3M185.35,1009v3.3M189.31,1009v3.3M193.28,1009v3.3M197.24,1009v5.3M201.2,1009v3.3M205.17,1009v3.3M209.13,1009v3.3M213.1,1009v3.3M217.06,1009v7.4M221.02,1009v3.3M224.99,1009v3.3M228.95,1009v3.3M232.92,1009v3.3M236.88,1009v5.3M240.84,1009v3.3M244.81,1009v3.3M248.77,1009v3.3M252.74,1009v3.3M256.7,1009v7.4M260.66,1009v3.3M264.63,1009v3.3M268.59,1009v3.3M272.56,1009v3.3M276.52,1009v5.3M280.48,1009v3.3M284.45,1009v3.3M288.41,1009v3.3M292.38,1009v3.3M296.34,1009v7.4M300.3,1009v3.3M304.27,1009v3.3M308.23,1009v3.3M312.2,1009v3.3M316.16,1009v5.3M320.12,1009v3.3M324.09,1009v3.3M328.05,1009v3.3M332.02,1009v3.3M335.98,1009v7.4M339.94,1009v3.3M343.91,1009v3.3M347.87,1009v3.3M351.84,1009v3.3M355.8,1009v5.3M359.76,1009v3.3M363.73,1009v3.3M367.69,1009v3.3M371.66,1009v3.3M375.62,1009v7.4M379.58,1009v3.3M383.55,1009v3.3M387.51,1009v3.3M391.48,1009v3.3M395.44,1009v5.3M399.4,1009v3.3M403.37,1009v3.3M407.33,1009v3.3M411.3,1009v3.3M415.26,1009v7.4M419.22,1009v3.3M423.19,1009v3.3M427.15,1009v3.3M431.12,1009v3.3M435.08,1009v5.3M439.04,1009v3.3M443.01,1009v3.3M446.97,1009v3.3M450.94,1009v3.3M454.9,1009v7.4M458.86,1009v3.3M462.83,1009v3.3M466.79,1009v3.3M470.76,1009v3.3M474.72,1009v5.3M478.68,1009v3.3M482.65,1009v3.3M486.61,1009v3.3M490.58,1009v3.3M494.54,1009v7.4M498.5,1009v3.3M502.47,1009v3.3M506.43,1009v3.3M510.4,1009v3.3M514.36,1009v5.3M518.32,1009v3.3M522.29,1009v3.3M526.25,1009v3.3M530.22,1009v3.3M534.18,1009v7.4M538.14,1009v3.3M542.11,1009v3.3M546.07,1009v3.3M550.04,1009v3.3M554,1009v5.3" fill="none" stroke="#909090" stroke-width="0.9" stroke-linejoin="round" stroke-linecap="butt"/>
<text x="55.3" y="1031.7" font-size="15.4">0</text>
<text x="94.94" y="1031.7" font-size="15.4">1</text>
<text x="134.58" y="1031.7" font-size="15.4">2</text>
<text x="174.22" y="1031.7" font-size="15.4">3</text>
<text x="213.86" y="1031.7" font-size="15.4">4</text>
<text x="253.5" y="1031.7" font-size="15.4">5</text>
<text x="293.14" y="1031.7" font-size="15.4">6</text>
<text x="332.78" y="1031.7" font-size="15.4">7</text>
<text x="372.42" y="1031.7" font-size="15.4">8</text>
<text x="412.06" y="1031.7" font-size="15.4">9</text>
<text x="451.7" y="1031.7" font-size="15.4">10</text>
<text x="491.34" y="1031.7" font-size="15.4">11</text>
<text x="530.98" y="1031.7" font-size="15.4">12</text>
<line x1="67" y1="558.8" x2="553.9" y2="558.8" stroke="#000000" stroke-width="2.8"/>
<line x1="66.3" y1="709.3" x2="553.9" y2="709.3" stroke="#860000" stroke-width="2.8"/>
<line x1="67.4" y1="859" x2="553.9" y2="859" stroke="#0a850a" stroke-width="2.8"/>
<line x1="65.2" y1="1007.4" x2="553.9" y2="1007.4" stroke="#00007d" stroke-width="2.8"/>
<text x="18" y="647.9" font-size="20.3" text-anchor="middle" transform="rotate(-90 18 647.9)">Relative Abundance</text>
<text x="340.2" y="1059.7" font-size="20.3" text-anchor="middle">Time (min)</text>
<text x="64.2" y="458.6" font-size="22">m/z 140.1069</text>
<text x="65.7" y="611" font-size="22">m/z 142.1226</text>
<text x="64.4" y="760.4" font-size="22">m/z 224.1645</text>
<text x="66.8" y="900.2" font-size="22">m/z 184.1332</text>
<line x1="611.3" y1="416.9" x2="611.3" y2="561.6" stroke="#8c8c8c" stroke-width="1"/>
<line x1="611.3" y1="561.1" x2="620.3" y2="561.1" stroke="#8c8c8c" stroke-width="1"/>
<line x1="607.7" y1="417.4" x2="611.3" y2="417.4" stroke="#8c8c8c" stroke-width="1"/>
<line x1="609" y1="424.58" x2="611.3" y2="424.58" stroke="#a5a5a5" stroke-width="0.8"/>
<line x1="609" y1="431.77" x2="611.3" y2="431.77" stroke="#a5a5a5" stroke-width="0.8"/>
<line x1="609" y1="438.95" x2="611.3" y2="438.95" stroke="#a5a5a5" stroke-width="0.8"/>
<line x1="607.7" y1="446.14" x2="611.3" y2="446.14" stroke="#8c8c8c" stroke-width="1"/>
<line x1="609" y1="453.32" x2="611.3" y2="453.32" stroke="#a5a5a5" stroke-width="0.8"/>
<line x1="609" y1="460.51" x2="611.3" y2="460.51" stroke="#a5a5a5" stroke-width="0.8"/>
<line x1="609" y1="467.69" x2="611.3" y2="467.69" stroke="#a5a5a5" stroke-width="0.8"/>
<line x1="607.7" y1="474.88" x2="611.3" y2="474.88" stroke="#8c8c8c" stroke-width="1"/>
<line x1="609" y1="482.06" x2="611.3" y2="482.06" stroke="#a5a5a5" stroke-width="0.8"/>
<line x1="609" y1="489.25" x2="611.3" y2="489.25" stroke="#a5a5a5" stroke-width="0.8"/>
<line x1="609" y1="496.44" x2="611.3" y2="496.44" stroke="#a5a5a5" stroke-width="0.8"/>
<line x1="607.7" y1="503.62" x2="611.3" y2="503.62" stroke="#8c8c8c" stroke-width="1"/>
<line x1="609" y1="510.81" x2="611.3" y2="510.81" stroke="#a5a5a5" stroke-width="0.8"/>
<line x1="609" y1="517.99" x2="611.3" y2="517.99" stroke="#a5a5a5" stroke-width="0.8"/>
<line x1="609" y1="525.18" x2="611.3" y2="525.18" stroke="#a5a5a5" stroke-width="0.8"/>
<line x1="607.7" y1="532.36" x2="611.3" y2="532.36" stroke="#8c8c8c" stroke-width="1"/>
<line x1="609" y1="539.54" x2="611.3" y2="539.54" stroke="#a5a5a5" stroke-width="0.8"/>
<line x1="609" y1="546.73" x2="611.3" y2="546.73" stroke="#a5a5a5" stroke-width="0.8"/>
<line x1="609" y1="553.91" x2="611.3" y2="553.91" stroke="#a5a5a5" stroke-width="0.8"/>
<line x1="607.7" y1="561.1" x2="611.3" y2="561.1" stroke="#8c8c8c" stroke-width="1"/>
<text x="604.1" y="428.4" font-size="16.2" text-anchor="end">100</text>
<text x="604.1" y="457.14" font-size="16.2" text-anchor="end">80</text>
<text x="604.1" y="485.88" font-size="16.2" text-anchor="end">60</text>
<text x="604.1" y="514.62" font-size="16.2" text-anchor="end">40</text>
<text x="604.1" y="543.36" font-size="16.2" text-anchor="end">20</text>
<text x="598.4" y="561.7" font-size="16.2" text-anchor="end">0</text>
<line x1="611.3" y1="567.9" x2="611.3" y2="712.1" stroke="#8c8c8c" stroke-width="1"/>
<line x1="611.3" y1="711.6" x2="620.3" y2="711.6" stroke="#8c8c8c" stroke-width="1"/>
<line x1="607.7" y1="568.4" x2="611.3" y2="568.4" stroke="#8c8c8c" stroke-width="1"/>
<line x1="609" y1="575.56" x2="611.3" y2="575.56" stroke="#a5a5a5" stroke-width="0.8"/>
<line x1="609" y1="582.72" x2="611.3" y2="582.72" stroke="#a5a5a5" stroke-width="0.8"/>
<line x1="609" y1="589.88" x2="611.3" y2="589.88" stroke="#a5a5a5" stroke-width="0.8"/>
<line x1="607.7" y1="597.04" x2="611.3" y2="597.04" stroke="#8c8c8c" stroke-width="1"/>
<line x1="609" y1="604.2" x2="611.3" y2="604.2" stroke="#a5a5a5" stroke-width="0.8"/>
<line x1="609" y1="611.36" x2="611.3" y2="611.36" stroke="#a5a5a5" stroke-width="0.8"/>
<line x1="609" y1="618.52" x2="611.3" y2="618.52" stroke="#a5a5a5" stroke-width="0.8"/>
<line x1="607.7" y1="625.68" x2="611.3" y2="625.68" stroke="#8c8c8c" stroke-width="1"/>
<line x1="609" y1="632.84" x2="611.3" y2="632.84" stroke="#a5a5a5" stroke-width="0.8"/>
<line x1="609" y1="640" x2="611.3" y2="640" stroke="#a5a5a5" stroke-width="0.8"/>
<line x1="609" y1="647.16" x2="611.3" y2="647.16" stroke="#a5a5a5" stroke-width="0.8"/>
<line x1="607.7" y1="654.32" x2="611.3" y2="654.32" stroke="#8c8c8c" stroke-width="1"/>
<line x1="609" y1="661.48" x2="611.3" y2="661.48" stroke="#a5a5a5" stroke-width="0.8"/>
<line x1="609" y1="668.64" x2="611.3" y2="668.64" stroke="#a5a5a5" stroke-width="0.8"/>
<line x1="609" y1="675.8" x2="611.3" y2="675.8" stroke="#a5a5a5" stroke-width="0.8"/>
<line x1="607.7" y1="682.96" x2="611.3" y2="682.96" stroke="#8c8c8c" stroke-width="1"/>
<line x1="609" y1="690.12" x2="611.3" y2="690.12" stroke="#a5a5a5" stroke-width="0.8"/>
<line x1="609" y1="697.28" x2="611.3" y2="697.28" stroke="#a5a5a5" stroke-width="0.8"/>
<line x1="609" y1="704.44" x2="611.3" y2="704.44" stroke="#a5a5a5" stroke-width="0.8"/>
<line x1="607.7" y1="711.6" x2="611.3" y2="711.6" stroke="#8c8c8c" stroke-width="1"/>
<text x="604.1" y="579.4" font-size="16.2" text-anchor="end">100</text>
<text x="604.1" y="608.04" font-size="16.2" text-anchor="end">80</text>
<text x="604.1" y="636.68" font-size="16.2" text-anchor="end">60</text>
<text x="604.1" y="665.32" font-size="16.2" text-anchor="end">40</text>
<text x="604.1" y="693.96" font-size="16.2" text-anchor="end">20</text>
<text x="598.4" y="712.2" font-size="16.2" text-anchor="end">0</text>
<line x1="611.3" y1="717.1" x2="611.3" y2="861.7" stroke="#8c8c8c" stroke-width="1"/>
<line x1="611.3" y1="861.2" x2="620.3" y2="861.2" stroke="#8c8c8c" stroke-width="1"/>
<line x1="607.7" y1="717.6" x2="611.3" y2="717.6" stroke="#8c8c8c" stroke-width="1"/>
<line x1="609" y1="724.78" x2="611.3" y2="724.78" stroke="#a5a5a5" stroke-width="0.8"/>
<line x1="609" y1="731.96" x2="611.3" y2="731.96" stroke="#a5a5a5" stroke-width="0.8"/>
<line x1="609" y1="739.14" x2="611.3" y2="739.14" stroke="#a5a5a5" stroke-width="0.8"/>
<line x1="607.7" y1="746.32" x2="611.3" y2="746.32" stroke="#8c8c8c" stroke-width="1"/>
<line x1="609" y1="753.5" x2="611.3" y2="753.5" stroke="#a5a5a5" stroke-width="0.8"/>
<line x1="609" y1="760.68" x2="611.3" y2="760.68" stroke="#a5a5a5" stroke-width="0.8"/>
<line x1="609" y1="767.86" x2="611.3" y2="767.86" stroke="#a5a5a5" stroke-width="0.8"/>
<line x1="607.7" y1="775.04" x2="611.3" y2="775.04" stroke="#8c8c8c" stroke-width="1"/>
<line x1="609" y1="782.22" x2="611.3" y2="782.22" stroke="#a5a5a5" stroke-width="0.8"/>
<line x1="609" y1="789.4" x2="611.3" y2="789.4" stroke="#a5a5a5" stroke-width="0.8"/>
<line x1="609" y1="796.58" x2="611.3" y2="796.58" stroke="#a5a5a5" stroke-width="0.8"/>
<line x1="607.7" y1="803.76" x2="611.3" y2="803.76" stroke="#8c8c8c" stroke-width="1"/>
<line x1="609" y1="810.94" x2="611.3" y2="810.94" stroke="#a5a5a5" stroke-width="0.8"/>
<line x1="609" y1="818.12" x2="611.3" y2="818.12" stroke="#a5a5a5" stroke-width="0.8"/>
<line x1="609" y1="825.3" x2="611.3" y2="825.3" stroke="#a5a5a5" stroke-width="0.8"/>
<line x1="607.7" y1="832.48" x2="611.3" y2="832.48" stroke="#8c8c8c" stroke-width="1"/>
<line x1="609" y1="839.66" x2="611.3" y2="839.66" stroke="#a5a5a5" stroke-width="0.8"/>
<line x1="609" y1="846.84" x2="611.3" y2="846.84" stroke="#a5a5a5" stroke-width="0.8"/>
<line x1="609" y1="854.02" x2="611.3" y2="854.02" stroke="#a5a5a5" stroke-width="0.8"/>
<line x1="607.7" y1="861.2" x2="611.3" y2="861.2" stroke="#8c8c8c" stroke-width="1"/>
<text x="604.1" y="728.6" font-size="16.2" text-anchor="end">100</text>
<text x="604.1" y="757.32" font-size="16.2" text-anchor="end">80</text>
<text x="604.1" y="786.04" font-size="16.2" text-anchor="end">60</text>
<text x="604.1" y="814.76" font-size="16.2" text-anchor="end">40</text>
<text x="604.1" y="843.48" font-size="16.2" text-anchor="end">20</text>
<text x="598.4" y="861.8" font-size="16.2" text-anchor="end">0</text>
<line x1="611.3" y1="867.2" x2="611.3" y2="1010.5" stroke="#8c8c8c" stroke-width="1"/>
<line x1="611.3" y1="1010" x2="620.3" y2="1010" stroke="#8c8c8c" stroke-width="1"/>
<line x1="607.7" y1="867.7" x2="611.3" y2="867.7" stroke="#8c8c8c" stroke-width="1"/>
<line x1="609" y1="874.82" x2="611.3" y2="874.82" stroke="#a5a5a5" stroke-width="0.8"/>
<line x1="609" y1="881.93" x2="611.3" y2="881.93" stroke="#a5a5a5" stroke-width="0.8"/>
<line x1="609" y1="889.05" x2="611.3" y2="889.05" stroke="#a5a5a5" stroke-width="0.8"/>
<line x1="607.7" y1="896.16" x2="611.3" y2="896.16" stroke="#8c8c8c" stroke-width="1"/>
<line x1="609" y1="903.28" x2="611.3" y2="903.28" stroke="#a5a5a5" stroke-width="0.8"/>
<line x1="609" y1="910.39" x2="611.3" y2="910.39" stroke="#a5a5a5" stroke-width="0.8"/>
<line x1="609" y1="917.5" x2="611.3" y2="917.5" stroke="#a5a5a5" stroke-width="0.8"/>
<line x1="607.7" y1="924.62" x2="611.3" y2="924.62" stroke="#8c8c8c" stroke-width="1"/>
<line x1="609" y1="931.74" x2="611.3" y2="931.74" stroke="#a5a5a5" stroke-width="0.8"/>
<line x1="609" y1="938.85" x2="611.3" y2="938.85" stroke="#a5a5a5" stroke-width="0.8"/>
<line x1="609" y1="945.97" x2="611.3" y2="945.97" stroke="#a5a5a5" stroke-width="0.8"/>
<line x1="607.7" y1="953.08" x2="611.3" y2="953.08" stroke="#8c8c8c" stroke-width="1"/>
<line x1="609" y1="960.2" x2="611.3" y2="960.2" stroke="#a5a5a5" stroke-width="0.8"/>
<line x1="609" y1="967.31" x2="611.3" y2="967.31" stroke="#a5a5a5" stroke-width="0.8"/>
<line x1="609" y1="974.42" x2="611.3" y2="974.42" stroke="#a5a5a5" stroke-width="0.8"/>
<line x1="607.7" y1="981.54" x2="611.3" y2="981.54" stroke="#8c8c8c" stroke-width="1"/>
<line x1="609" y1="988.65" x2="611.3" y2="988.65" stroke="#a5a5a5" stroke-width="0.8"/>
<line x1="609" y1="995.77" x2="611.3" y2="995.77" stroke="#a5a5a5" stroke-width="0.8"/>
<line x1="609" y1="1002.88" x2="611.3" y2="1002.88" stroke="#a5a5a5" stroke-width="0.8"/>
<line x1="607.7" y1="1010" x2="611.3" y2="1010" stroke="#8c8c8c" stroke-width="1"/>
<text x="604.1" y="878.7" font-size="16.2" text-anchor="end">100</text>
<text x="604.1" y="907.16" font-size="16.2" text-anchor="end">80</text>
<text x="604.1" y="935.62" font-size="16.2" text-anchor="end">60</text>
<text x="604.1" y="964.08" font-size="16.2" text-anchor="end">40</text>
<text x="604.1" y="992.54" font-size="16.2" text-anchor="end">20</text>
<text x="598.4" y="1010.6" font-size="16.2" text-anchor="end">0</text>
<line x1="611.3" y1="1010" x2="1114.73" y2="1010" stroke="#8c8c8c" stroke-width="1"/>
<path d="M611.3,1010v7.4M615.26,1010v3.3M619.23,1010v3.3M623.19,1010v3.3M627.16,1010v3.3M631.12,1010v5.3M635.08,1010v3.3M639.05,1010v3.3M643.01,1010v3.3M646.98,1010v3.3M650.94,1010v7.4M654.9,1010v3.3M658.87,1010v3.3M662.83,1010v3.3M666.8,1010v3.3M670.76,1010v5.3M674.72,1010v3.3M678.69,1010v3.3M682.65,1010v3.3M686.62,1010v3.3M690.58,1010v7.4M694.54,1010v3.3M698.51,1010v3.3M702.47,1010v3.3M706.44,1010v3.3M710.4,1010v5.3M714.36,1010v3.3M718.33,1010v3.3M722.29,1010v3.3M726.26,1010v3.3M730.22,1010v7.4M734.18,1010v3.3M738.15,1010v3.3M742.11,1010v3.3M746.08,1010v3.3M750.04,1010v5.3M754,1010v3.3M757.97,1010v3.3M761.93,1010v3.3M765.9,1010v3.3M769.86,1010v7.4M773.82,1010v3.3M777.79,1010v3.3M781.75,1010v3.3M785.72,1010v3.3M789.68,1010v5.3M793.64,1010v3.3M797.61,1010v3.3M801.57,1010v3.3M805.54,1010v3.3M809.5,1010v7.4M813.46,1010v3.3M817.43,1010v3.3M821.39,1010v3.3M825.36,1010v3.3M829.32,1010v5.3M833.28,1010v3.3M837.25,1010v3.3M841.21,1010v3.3M845.18,1010v3.3M849.14,1010v7.4M853.1,1010v3.3M857.07,1010v3.3M861.03,1010v3.3M865,1010v3.3M868.96,1010v5.3M872.92,1010v3.3M876.89,1010v3.3M880.85,1010v3.3M884.82,1010v3.3M888.78,1010v7.4M892.74,1010v3.3M896.71,1010v3.3M900.67,1010v3.3M904.64,1010v3.3M908.6,1010v5.3M912.56,1010v3.3M916.53,1010v3.3M920.49,1010v3.3M924.46,1010v3.3M928.42,1010v7.4M932.38,1010v3.3M936.35,1010v3.3M940.31,1010v3.3M944.28,1010v3.3M948.24,1010v5.3M952.2,1010v3.3M956.17,1010v3.3M960.13,1010v3.3M964.1,1010v3.3M968.06,1010v7.4M972.02,1010v3.3M975.99,1010v3.3M979.95,1010v3.3M983.92,1010v3.3M987.88,1010v5.3M991.84,1010v3.3M995.81,1010v3.3M999.77,1010v3.3M1003.74,1010v3.3M1007.7,1010v7.4M1011.66,1010v3.3M1015.63,1010v3.3M1019.59,1010v3.3M1023.56,1010v3.3M1027.52,1010v5.3M1031.48,1010v3.3M1035.45,1010v3.3M1039.41,1010v3.3M1043.38,1010v3.3M1047.34,1010v7.4M1051.3,1010v3.3M1055.27,1010v3.3M1059.23,1010v3.3M1063.2,1010v3.3M1067.16,1010v5.3M1071.12,1010v3.3M1075.09,1010v3.3M1079.05,1010v3.3M1083.02,1010v3.3M1086.98,1010v7.4M1090.94,1010v3.3M1094.91,1010v3.3M1098.87,1010v3.3M1102.84,1010v3.3M1106.8,1010v5.3M1110.76,1010v3.3M1114.73,1010v3.3" fill="none" stroke="#909090" stroke-width="0.9" stroke-linejoin="round" stroke-linecap="butt"/>
<text x="608.1" y="1032.7" font-size="15.4">0</text>
<text x="647.74" y="1032.7" font-size="15.4">1</text>
<text x="687.38" y="1032.7" font-size="15.4">2</text>
<text x="727.02" y="1032.7" font-size="15.4">3</text>
<text x="766.66" y="1032.7" font-size="15.4">4</text>
<text x="806.3" y="1032.7" font-size="15.4">5</text>
<text x="845.94" y="1032.7" font-size="15.4">6</text>
<text x="885.58" y="1032.7" font-size="15.4">7</text>
<text x="925.22" y="1032.7" font-size="15.4">8</text>
<text x="964.86" y="1032.7" font-size="15.4">9</text>
<text x="1004.5" y="1032.7" font-size="15.4">10</text>
<text x="1044.14" y="1032.7" font-size="15.4">11</text>
<text x="1083.78" y="1032.7" font-size="15.4">12</text>
<text x="574.3" y="648.5" font-size="20.3" text-anchor="middle" transform="rotate(-90 574.3 648.5)">Relative Abundance</text>
<text x="894" y="1061.6" font-size="20.3" text-anchor="middle">Time (min)</text>
<text x="617" y="459.8" font-size="22">m/z 140.1069</text>
<text x="618.8" y="613.7" font-size="22">m/z 142.1226</text>
<text x="616.8" y="757" font-size="22">m/z 224.1645</text>
<text x="619.6" y="903.7" font-size="22">m/z 184.1332</text>
<path d="M618.9,560.7 L660.9,560.68 L661.65,560.66 L662.15,560.64 L662.65,560.61 L662.9,560.59 L663.15,560.57 L663.4,560.54 L663.65,560.52 L663.9,560.48 L664.15,560.45 L664.4,560.41 L664.65,560.36 L664.9,560.31 L665.15,560.26 L665.4,560.2 L665.65,560.14 L665.9,560.08 L666.15,560.01 L666.4,559.94 L666.65,559.87 L666.9,559.79 L667.15,559.71 L667.4,559.64 L667.65,559.56 L667.9,559.49 L668.15,559.42 L668.4,559.36 L668.65,559.3 L668.9,559.25 L669.15,559.2 L669.4,559.16 L669.65,559.13 L669.9,559.11 L670.9,559.13 L671.15,559.16 L671.4,559.19 L671.65,559.24 L671.9,559.29 L672.15,559.35 L672.4,559.41 L672.65,559.48 L672.9,559.55 L673.15,559.62 L673.4,559.7 L673.65,559.78 L673.9,559.85 L674.15,559.92 L674.4,560 L674.65,560.06 L674.9,560.13 L675.15,560.19 L675.4,560.25 L675.65,560.3 L675.9,560.35 L676.15,560.4 L676.4,560.44 L676.65,560.48 L676.9,560.51 L677.15,560.54 L677.4,560.56 L677.65,560.59 L678.15,560.62 L678.65,560.65 L679.4,560.67 L680.9,560.69 L686.65,560.67 L687.4,560.65 L687.9,560.62 L688.4,560.59 L688.65,560.57 L688.9,560.55 L689.15,560.52 L689.4,560.49 L689.65,560.46 L689.9,560.42 L690.15,560.38 L690.4,560.33 L690.65,560.28 L690.9,560.22 L691.15,560.16 L691.4,560.1 L691.65,560.03 L691.9,559.96 L692.15,559.88 L692.4,559.8 L692.65,559.71 L692.9,559.62 L693.15,559.53 L693.4,559.44 L693.65,559.35 L693.9,559.25 L694.15,559.16 L694.4,559.07 L694.65,558.99 L694.9,558.91 L695.15,558.83 L695.4,558.76 L695.65,558.69 L695.9,558.64 L696.15,558.59 L696.4,558.55 L696.65,558.53 L697.15,558.5 L697.65,558.52 L697.9,558.54 L698.15,558.58 L698.4,558.62 L698.65,558.67 L698.9,558.73 L699.15,558.8 L699.4,558.87 L699.65,558.95 L699.9,559.04 L700.15,559.13 L700.4,559.22 L700.65,559.31 L700.9,559.4 L701.15,559.49 L701.4,559.59 L701.65,559.68 L701.9,559.76 L702.15,559.85 L702.4,559.92 L702.65,560 L702.9,560.07 L703.15,560.14 L703.4,560.2 L703.65,560.26 L703.9,560.31 L704.15,560.36 L704.4,560.4 L704.65,560.44 L704.9,560.48 L705.15,560.51 L705.4,560.54 L705.65,560.56 L705.9,560.58 L706.4,560.62 L706.9,560.64 L707.65,560.67 L708.9,560.69 L853.65,560.67 L853.9,560.64 L854.15,560.58 L854.4,560.45 L854.65,560.16 L854.9,559.52 L855.15,558.2 L855.4,555.69 L855.65,551.2 L855.9,543.77 L856.15,532.44 L856.4,516.57 L856.65,496.29 L856.9,472.85 L857.15,448.79 L857.4,427.54 L857.65,418.6 L858.15,418.6 L858.4,425.03 L858.65,445.08 L858.9,468.03 L859.15,490.44 L859.4,509.83 L859.65,524.93 L859.9,535.65 L860.15,542.62 L860.4,546.83 L860.65,549.22 L860.9,550.57 L861.15,551.38 L861.4,551.98 L861.65,552.51 L861.9,553.04 L862.15,553.59 L862.4,554.15 L862.65,554.7 L862.9,555.24 L863.15,555.75 L863.4,556.21 L863.65,556.63 L863.9,557 L864.15,557.32 L864.4,557.59 L864.65,557.83 L864.9,558.03 L865.15,558.21 L865.4,558.36 L865.65,558.5 L865.9,558.62 L866.15,558.73 L866.4,558.84 L866.65,558.94 L866.9,559.03 L867.15,559.12 L867.4,559.21 L867.65,559.29 L867.9,559.37 L868.15,559.44 L868.4,559.51 L868.65,559.57 L868.9,559.62 L869.15,559.67 L869.4,559.71 L869.65,559.74 L869.9,559.77 L870.15,559.79 L870.65,559.81 L872.9,559.79 L874.9,559.82 L875.4,559.85 L875.65,559.87 L875.9,559.89 L876.15,559.92 L876.4,559.95 L876.65,559.98 L876.9,560.01 L877.15,560.04 L877.4,560.07 L877.65,560.11 L877.9,560.14 L878.15,560.17 L878.4,560.21 L878.65,560.24 L878.9,560.27 L879.15,560.3 L879.4,560.32 L880.15,560.32 L880.4,560.28 L880.65,560.2 L880.9,560.07 L881.15,559.87 L881.4,559.58 L881.65,559.18 L881.9,558.66 L882.15,557.99 L882.4,557.19 L882.65,556.25 L882.9,555.21 L883.15,554.09 L883.4,552.96 L883.65,551.87 L883.9,550.89 L884.15,550.06 L884.4,549.43 L884.65,549.04 L884.9,548.88 L885.15,548.95 L885.4,549.21 L885.65,549.64 L885.9,550.19 L886.15,550.81 L886.4,551.49 L886.65,552.19 L886.9,552.89 L887.15,553.59 L887.4,554.28 L887.65,554.96 L887.9,555.61 L888.15,556.24 L888.4,556.84 L888.65,557.4 L888.9,557.92 L889.15,558.4 L889.4,558.82 L889.65,559.19 L889.9,559.5 L890.15,559.77 L890.4,559.99 L890.65,560.17 L890.9,560.31 L891.15,560.41 L891.4,560.5 L891.65,560.56 L891.9,560.6 L892.15,560.63 L892.4,560.66 L892.9,560.68 L900.4,560.66 L900.9,560.64 L901.4,560.61 L901.65,560.59 L901.9,560.57 L902.15,560.55 L902.4,560.52 L902.65,560.5 L902.9,560.46 L903.15,560.43 L903.4,560.39 L903.65,560.35 L903.9,560.31 L904.15,560.26 L904.4,560.21 L904.65,560.16 L904.9,560.11 L905.15,560.06 L905.4,560.01 L905.65,559.96 L905.9,559.92 L906.15,559.87 L906.4,559.83 L906.65,559.8 L906.9,559.76 L907.15,559.74 L907.4,559.72 L907.9,559.69 L909.4,559.71 L909.9,559.7 L910.15,559.68 L910.4,559.64 L910.65,559.57 L910.9,559.48 L911.15,559.36 L911.4,559.21 L911.65,559.03 L911.9,558.82 L912.15,558.59 L912.4,558.34 L912.65,558.08 L912.9,557.82 L913.15,557.58 L913.4,557.36 L913.65,557.18 L913.9,557.05 L914.15,556.97 L914.4,556.96 L914.65,557 L914.9,557.1 L915.15,557.25 L915.4,557.44 L915.65,557.67 L915.9,557.91 L916.15,558.16 L916.4,558.41 L916.65,558.65 L916.9,558.86 L917.15,559.06 L917.4,559.23 L917.65,559.37 L917.9,559.49 L918.15,559.58 L918.4,559.66 L918.65,559.72 L918.9,559.77 L919.15,559.81 L919.4,559.84 L919.65,559.88 L919.9,559.91 L920.15,559.94 L920.4,559.97 L920.65,560.01 L920.9,560.04 L921.15,560.08 L921.4,560.12 L921.65,560.16 L921.9,560.2 L922.15,560.24 L922.4,560.28 L922.65,560.32 L922.9,560.36 L923.15,560.39 L923.4,560.43 L923.65,560.46 L923.9,560.49 L924.15,560.52 L924.4,560.54 L924.65,560.56 L924.9,560.58 L925.4,560.62 L925.9,560.64 L926.65,560.67 L927.9,560.69 L947.65,560.65 L947.9,560.63 L948.15,560.59 L948.4,560.53 L948.65,560.46 L948.9,560.36 L949.15,560.24 L949.4,560.09 L949.65,559.91 L949.9,559.71 L950.15,559.5 L950.4,559.28 L950.65,559.06 L950.9,558.86 L951.15,558.7 L951.4,558.58 L951.65,558.51 L951.9,558.5 L952.15,558.56 L952.4,558.67 L952.65,558.83 L952.9,559.02 L953.15,559.23 L953.4,559.45 L953.65,559.67 L953.9,559.87 L954.15,560.06 L954.4,560.21 L954.65,560.34 L954.9,560.44 L955.15,560.52 L955.4,560.58 L955.65,560.62 L955.9,560.65 L956.4,560.68 L1066.4,560.71 L1067.15,560.73 L1067.9,560.76 L1068.65,560.79 L1069.4,560.81 L1070.15,560.84 L1070.9,560.86 L1071.65,560.89 L1072.4,560.92 L1073.15,560.94 L1073.9,560.97 L1074.65,561 L1075.4,561.02 L1076.15,561.05 L1076.9,561.07 L1077.65,561.1 L1078.4,561.13 L1079.15,561.15 L1079.9,561.18 L1080.65,561.21 L1081.4,561.23 L1082.15,561.26 L1082.9,561.28 L1083.65,561.31 L1084.4,561.34 L1085.15,561.36 L1085.9,561.39 L1086.65,561.42 L1087.4,561.44 L1088.15,561.47 L1088.9,561.49 L1089.65,561.52 L1090.4,561.55 L1091.15,561.57 L1091.9,561.6 L1092.65,561.63 L1093.4,561.65 L1094.15,561.68 L1094.9,561.7 L1095.65,561.73 L1096.4,561.76 L1097.15,561.78 L1097.9,561.81 L1098.65,561.84 L1099.4,561.86 L1100.15,561.89 L1100.9,561.91 L1101.65,561.94 L1102.4,561.97 L1103.15,561.99 L1103.9,562.02 L1104.65,562.05 L1105.4,562.07 L1106.15,562.1" fill="none" stroke="#000000" stroke-width="2.4" stroke-linejoin="round" stroke-linecap="butt"/>
<path d="M618.5,712 L857.5,711.97 L857.75,711.95 L858,711.93 L858.25,711.88 L858.5,711.82 L858.75,711.74 L859,711.62 L859.25,711.46 L859.5,711.25 L859.75,710.98 L860,710.64 L860.25,710.22 L860.5,709.73 L860.75,709.17 L861,708.54 L861.25,707.86 L861.5,707.15 L861.75,706.44 L862,705.76 L862.25,705.16 L862.5,704.65 L862.75,704.28 L863,704.06 L863.25,704 L863.5,704.12 L863.75,704.41 L864,704.84 L864.25,705.39 L864.5,706.03 L864.75,706.72 L865,707.43 L865.25,708.13 L865.5,708.8 L865.75,709.4 L866,709.94 L866.25,710.4 L866.5,710.78 L866.75,711.1 L867,711.34 L867.25,711.53 L867.5,711.67 L867.75,711.78 L868,711.85 L868.25,711.9 L868.5,711.94 L868.75,711.96 L869.25,711.99 L882.75,711.96 L883,711.95 L883.25,711.93 L883.5,711.89 L883.75,711.83 L884,711.72 L884.25,711.54 L884.5,711.25 L884.75,710.78 L885,710.05 L885.25,708.95 L885.5,707.31 L885.75,704.95 L886,701.67 L886.25,697.22 L886.5,691.38 L886.75,683.95 L887,674.8 L887.25,663.91 L887.5,651.43 L887.75,637.63 L888,623.02 L888.25,608.25 L888.5,594.11 L888.75,581.45 L889,571.11 L889.25,569.6 L890,569.6 L890.25,571.55 L890.5,581.9 L890.75,594.43 L891,608.31 L891.25,622.69 L891.5,636.82 L891.75,650.06 L892,661.98 L892.25,672.3 L892.5,680.94 L892.75,687.94 L893,693.44 L893.25,697.64 L893.5,700.77 L893.75,703.06 L894,704.7 L894.25,705.89 L894.5,706.74 L894.75,707.37 L895,707.84 L895.25,708.22 L895.5,708.53 L895.75,708.8 L896,709.03 L896.25,709.24 L896.5,709.43 L896.75,709.6 L897,709.75 L897.25,709.89 L897.5,710.01 L897.75,710.12 L898,710.21 L898.25,710.3 L898.5,710.37 L898.75,710.44 L899,710.5 L899.25,710.56 L899.5,710.61 L899.75,710.66 L900,710.71 L900.25,710.76 L900.5,710.81 L900.75,710.86 L901,710.9 L901.25,710.95 L901.5,711 L901.75,711.04 L902,711.09 L902.25,711.13 L902.5,711.18 L902.75,711.23 L903,711.27 L903.25,711.31 L903.5,711.36 L903.75,711.4 L904,711.44 L904.25,711.48 L904.5,711.51 L904.75,711.55 L905,711.58 L905.25,711.62 L905.5,711.65 L905.75,711.68 L906,711.7 L906.25,711.73 L906.5,711.75 L906.75,711.78 L907,711.8 L907.5,711.83 L908,711.87 L908.5,711.89 L909,711.92 L909.75,711.94 L910.75,711.97 L912.5,711.99 L934.5,711.96 L935,711.94 L935.25,711.92 L935.5,711.89 L935.75,711.84 L936,711.76 L936.25,711.63 L936.5,711.44 L936.75,711.12 L937,710.65 L937.25,709.96 L937.5,708.98 L937.75,707.65 L938,705.93 L938.25,703.81 L938.5,701.33 L938.75,698.59 L939,695.75 L939.25,693.02 L939.5,690.63 L939.75,688.82 L940,687.75 L940.25,687.53 L940.5,688.15 L940.75,689.5 L941,691.43 L941.25,693.7 L941.5,696.1 L941.75,698.43 L942,700.54 L942.25,702.36 L942.5,703.84 L942.75,705.02 L943,705.92 L943.25,706.61 L943.5,707.15 L943.75,707.57 L944,707.93 L944.25,708.24 L944.5,708.53 L944.75,708.79 L945,709.03 L945.25,709.26 L945.5,709.47 L945.75,709.66 L946,709.83 L946.25,709.98 L946.5,710.12 L946.75,710.23 L947,710.33 L947.25,710.41 L947.5,710.49 L947.75,710.55 L948,710.61 L948.25,710.66 L948.5,710.7 L948.75,710.75 L949,710.79 L949.25,710.83 L949.5,710.87 L949.75,710.91 L950,710.95 L950.25,710.99 L950.5,711.04 L950.75,711.08 L951,711.12 L951.25,711.17 L951.5,711.21 L951.75,711.25 L952,711.3 L952.25,711.34 L952.5,711.38 L952.75,711.43 L953,711.47 L953.25,711.5 L953.5,711.54 L953.75,711.58 L954,711.61 L954.25,711.64 L954.5,711.68 L954.75,711.7 L955,711.73 L955.25,711.76 L955.5,711.78 L955.75,711.8 L956,711.82 L956.5,711.86 L957,711.89 L957.5,711.91 L958.25,711.94 L959.25,711.97 L961,711.99 L1067.75,712.01 L1069,712.04 L1070.25,712.06 L1071.5,712.09 L1072.75,712.11 L1074,712.14 L1075.25,712.16 L1076.5,712.19 L1077.75,712.21 L1079,712.24 L1080.25,712.26 L1081.5,712.29 L1082.75,712.31 L1084,712.34 L1085.25,712.36 L1086.5,712.39 L1087.75,712.41 L1089,712.44 L1090.25,712.46 L1091.5,712.49 L1092.75,712.51 L1094,712.54 L1095.25,712.56 L1096.5,712.59 L1097.75,712.61 L1099,712.64 L1100.25,712.66 L1101.5,712.69 L1102.75,712.71 L1104,712.74 L1105.25,712.76 L1106.5,712.79 L1107,712.8" fill="none" stroke="#860000" stroke-width="2.1" stroke-linejoin="round" stroke-linecap="butt"/>
<path d="M619,859.8 L900.75,859.77 L901,859.75 L901.25,859.71 L901.5,859.65 L901.75,859.55 L902,859.38 L902.25,859.12 L902.5,858.73 L902.75,858.13 L903,857.27 L903.25,856.03 L903.5,854.3 L903.75,851.94 L904,848.79 L904.25,844.7 L904.5,839.5 L904.75,833.06 L905,825.29 L905.25,816.16 L905.5,805.73 L905.75,794.17 L906,781.73 L906.25,768.82 L906.5,755.91 L906.75,743.57 L907,732.4 L907.25,722.96 L907.5,717 L908.5,717 L908.75,722.96 L909,732.4 L909.25,743.57 L909.5,755.91 L909.75,768.82 L910,781.73 L910.25,794.17 L910.5,805.73 L910.75,816.16 L911,825.29 L911.25,833.06 L911.5,839.5 L911.75,844.7 L912,848.79 L912.25,851.94 L912.5,854.3 L912.75,856.03 L913,857.27 L913.25,858.13 L913.5,858.73 L913.75,859.12 L914,859.38 L914.25,859.55 L914.5,859.65 L914.75,859.71 L915,859.75 L915.25,859.77 L916,859.8 L1107,859.8" fill="none" stroke="#0a850a" stroke-width="2.4" stroke-linejoin="round" stroke-linecap="butt"/>
<path d="M621.9,1007.3 L622.15,1006.97 L622.4,1006.76 L622.65,1006.7 L622.9,1006.82 L623.15,1007.09 L623.4,1007.45 L623.65,1007.84 L623.9,1008.19 L624.15,1008.48 L624.4,1008.69 L624.65,1008.83 L624.9,1008.91 L625.15,1008.96 L625.4,1008.98 L880.4,1008.96 L880.65,1008.94 L880.9,1008.9 L881.15,1008.84 L881.4,1008.74 L881.65,1008.61 L881.9,1008.43 L882.15,1008.18 L882.4,1007.87 L882.65,1007.49 L882.9,1007.05 L883.15,1006.55 L883.4,1006.03 L883.65,1005.5 L883.9,1005.01 L884.15,1004.6 L884.4,1004.3 L884.65,1004.13 L884.9,1004.11 L885.15,1004.25 L885.4,1004.53 L885.65,1004.92 L885.9,1005.4 L886.15,1005.92 L886.4,1006.45 L886.65,1006.95 L886.9,1007.41 L887.15,1007.8 L887.4,1008.13 L887.65,1008.38 L887.9,1008.58 L888.15,1008.72 L888.4,1008.82 L888.65,1008.89 L888.9,1008.93 L889.15,1008.96 L889.65,1008.99 L898.15,1008.97 L898.4,1008.95 L898.65,1008.9 L898.9,1008.82 L899.15,1008.69 L899.4,1008.45 L899.65,1008.07 L899.9,1007.47 L900.15,1006.54 L900.4,1005.15 L900.65,1003.12 L900.9,1000.24 L901.15,996.3 L901.4,991.06 L901.65,984.29 L901.9,975.85 L902.15,965.65 L902.4,953.78 L902.65,940.44 L902.9,926.06 L903.15,911.22 L903.4,896.67 L903.65,883.24 L903.9,871.78 L904.15,867.6 L905.15,867.6 L905.4,873.27 L905.65,884.8 L905.9,898.02 L906.15,912.08 L906.4,926.19 L906.65,939.66 L906.9,952 L907.15,962.86 L907.4,972.1 L907.65,979.7 L907.9,985.78 L908.15,990.52 L908.4,994.14 L908.65,996.86 L908.9,998.89 L909.15,1000.42 L909.4,1001.58 L909.65,1002.48 L909.9,1003.21 L910.15,1003.82 L910.4,1004.35 L910.65,1004.81 L910.9,1005.22 L911.15,1005.59 L911.4,1005.92 L911.65,1006.21 L911.9,1006.47 L912.15,1006.71 L912.4,1006.92 L912.65,1007.1 L912.9,1007.27 L913.15,1007.42 L913.4,1007.56 L913.65,1007.68 L913.9,1007.79 L914.15,1007.9 L914.4,1008 L914.65,1008.09 L914.9,1008.18 L915.15,1008.27 L915.4,1008.34 L915.65,1008.42 L915.9,1008.48 L916.15,1008.55 L916.4,1008.6 L916.65,1008.65 L916.9,1008.7 L917.15,1008.74 L917.4,1008.78 L917.65,1008.82 L917.9,1008.85 L918.15,1008.87 L918.4,1008.89 L918.9,1008.93 L919.4,1008.95 L920.15,1008.98 L922.15,1009 L1096.9,1008.98 L1097.65,1008.94 L1097.9,1008.93 L1098.15,1008.9 L1098.4,1008.87 L1098.65,1008.84 L1098.9,1008.79 L1099.15,1008.74 L1099.4,1008.67 L1099.65,1008.59 L1099.9,1008.5 L1100.15,1008.39 L1100.4,1008.27 L1100.65,1008.13 L1100.9,1007.97 L1101.15,1007.79 L1101.4,1007.6 L1101.65,1007.39 L1101.9,1007.16 L1102.15,1006.93 L1102.4,1006.68 L1102.65,1006.42 L1102.9,1006.17 L1103.15,1005.91 L1103.4,1005.66 L1103.65,1005.42 L1103.9,1005.2 L1104.15,1005 L1104.4,1004.83 L1104.65,1004.68 L1104.9,1004.56 L1105.15,1004.48 L1105.4,1004.43 L1105.9,1004.42 L1106.15,1004.47 L1106.4,1004.54 L1106.65,1004.63 L1106.9,1004.75 L1107.15,1004.88 L1107.4,1005.02 L1107.65,1005.18 L1107.9,1005.34 L1108.15,1005.5 L1108.4,1005.67 L1108.65,1005.83 L1108.9,1005.99 L1109.15,1006.15 L1109.4,1006.3 L1109.65,1006.45 L1109.9,1006.6 L1110.15,1006.75 L1110.4,1006.89 L1110.65,1007.03 L1110.9,1007.17 L1111.15,1007.31 L1111.4,1007.44 L1111.65,1007.58 L1111.9,1007.7 L1112.15,1007.83 L1112.4,1007.95 L1112.65,1008.07 L1112.9,1008.17 L1113.15,1008.28 L1113.4,1008.37 L1113.65,1008.46 L1113.9,1008.54 L1114.15,1008.61" fill="none" stroke="#00007d" stroke-width="2.3" stroke-linejoin="round" stroke-linecap="butt"/>
<line x1="890.32" y1="424.19" x2="896.29" y2="430.54" stroke="#000" stroke-width="0.95" stroke-linecap="round"/>
<text x="899.47" y="437.25" font-size="7" text-anchor="middle">N</text>
<line x1="903.81" y1="437.02" x2="911.47" y2="441.68" stroke="#000" stroke-width="0.95" stroke-linecap="round"/>
<line x1="911.47" y1="441.68" x2="925.93" y2="441.68" stroke="#000" stroke-width="0.95" stroke-linecap="round"/>
<line x1="925.93" y1="441.68" x2="935" y2="464" stroke="#000" stroke-width="0.95" stroke-linecap="round"/>
<line x1="901.19" y1="439.09" x2="907.88" y2="455.17" stroke="#000" stroke-width="0.95" stroke-linecap="round"/>
<line x1="911.47" y1="441.68" x2="906.78" y2="444.49" stroke="#000" stroke-width="0.95" stroke-linecap="round"/>
<line x1="902.09" y1="447.31" x2="899.74" y2="448.72" stroke="#000" stroke-width="0.95" stroke-linecap="round"/>
<line x1="899.74" y1="448.72" x2="895.81" y2="462.96" stroke="#000" stroke-width="0.95" stroke-linecap="round"/>
<polygon points="896.29,463.7 908.52,456.15 907.25,454.18 895.33,462.23" fill="#000"/>
<line x1="907.53" y1="455.17" x2="923.39" y2="455.17" stroke="#000" stroke-width="2.35"/>
<polygon points="922.06,456.35 934.78,464.31 935.22,463.69 923.79,453.98" fill="#000"/>
<line x1="936.01" y1="463.26" x2="941.61" y2="470.86" stroke="#000" stroke-width="0.9" stroke-linecap="round"/>
<line x1="933.99" y1="464.74" x2="939.59" y2="472.34" stroke="#000" stroke-width="0.9" stroke-linecap="round"/>
<text x="943.8" y="477.91" font-size="7" text-anchor="middle">O</text>
<text x="918.7" y="503" font-size="21.6" text-anchor="middle">tropinone</text>
<line x1="897.1" y1="513.6" x2="891.72" y2="530.93" stroke="#000" stroke-width="2.4"/>
<polygon points="888.2,542.3 885.95,528.62 897.79,532.29" fill="#000"/>
<line x1="782.7" y1="609.24" x2="800.1" y2="609.24" stroke="#000" stroke-width="0.95" stroke-linecap="round"/>
<line x1="800.1" y1="609.24" x2="805.1" y2="625.2" stroke="#000" stroke-width="0.95" stroke-linecap="round"/>
<line x1="782.7" y1="609.24" x2="777.77" y2="625.2" stroke="#000" stroke-width="0.95" stroke-linecap="round"/>
<line x1="777.77" y1="625.2" x2="787.39" y2="632.35" stroke="#000" stroke-width="0.95" stroke-linecap="round"/>
<line x1="805.1" y1="625.2" x2="795.42" y2="632.36" stroke="#000" stroke-width="0.95" stroke-linecap="round"/>
<text x="791.4" y="638.17" font-size="8.2" text-anchor="middle">N</text>
<line x1="791.4" y1="640.48" x2="791.4" y2="651.5" stroke="#000" stroke-width="0.95" stroke-linecap="round"/>
<line x1="807.07" y1="625.75" x2="806.55" y2="626.64" stroke="#000" stroke-width="0.7"/>
<line x1="809.74" y1="626.93" x2="808.9" y2="628.37" stroke="#000" stroke-width="0.7"/>
<line x1="812.4" y1="628.12" x2="811.25" y2="630.11" stroke="#000" stroke-width="0.7"/>
<line x1="815.07" y1="629.3" x2="813.6" y2="631.84" stroke="#000" stroke-width="0.7"/>
<line x1="817.74" y1="630.49" x2="815.94" y2="633.57" stroke="#000" stroke-width="0.7"/>
<line x1="820.4" y1="631.67" x2="818.29" y2="635.3" stroke="#000" stroke-width="0.7"/>
<line x1="819.35" y1="633.49" x2="833.66" y2="625.2" stroke="#000" stroke-width="0.95" stroke-linecap="round"/>
<line x1="833.66" y1="625.2" x2="848.32" y2="633.49" stroke="#000" stroke-width="0.95" stroke-linecap="round"/>
<line x1="835.45" y1="613.83" x2="835.45" y2="624.99" stroke="#000" stroke-width="0.95" stroke-linecap="round"/>
<line x1="832.15" y1="613.83" x2="832.15" y2="624.99" stroke="#000" stroke-width="0.95" stroke-linecap="round"/>
<text x="833.73" y="611.35" font-size="8.2" text-anchor="middle">O</text>
<text x="812.2" y="676.9" font-size="21.6" text-anchor="middle">hygrine</text>
<line x1="851.2" y1="618.8" x2="870.4" y2="618.8" stroke="#000" stroke-width="2.4"/>
<polygon points="882.3,618.8 869.9,625 869.9,612.6" fill="#000"/>
<line x1="927.83" y1="578.83" x2="933.97" y2="585.37" stroke="#000" stroke-width="0.95" stroke-linecap="round"/>
<text x="937.23" y="592.35" font-size="7.4" text-anchor="middle">N</text>
<line x1="941.71" y1="592.04" x2="949.59" y2="596.83" stroke="#000" stroke-width="0.95" stroke-linecap="round"/>
<line x1="949.59" y1="596.83" x2="964.46" y2="596.83" stroke="#000" stroke-width="0.95" stroke-linecap="round"/>
<line x1="964.46" y1="596.83" x2="973.8" y2="619.8" stroke="#000" stroke-width="0.95" stroke-linecap="round"/>
<line x1="939.01" y1="594.17" x2="945.9" y2="610.71" stroke="#000" stroke-width="0.95" stroke-linecap="round"/>
<line x1="949.59" y1="596.83" x2="944.76" y2="599.73" stroke="#000" stroke-width="0.95" stroke-linecap="round"/>
<line x1="939.93" y1="602.63" x2="937.52" y2="604.07" stroke="#000" stroke-width="0.95" stroke-linecap="round"/>
<line x1="937.52" y1="604.07" x2="933.47" y2="618.73" stroke="#000" stroke-width="0.95" stroke-linecap="round"/>
<polygon points="933.96,619.5 946.55,611.73 945.24,609.7 932.98,617.97" fill="#000"/>
<line x1="945.53" y1="610.71" x2="961.86" y2="610.71" stroke="#000" stroke-width="2.41"/>
<polygon points="960.48,611.93 973.58,620.11 974.02,619.49 962.27,609.49" fill="#000"/>
<line x1="973.8" y1="619.8" x2="982" y2="615.2" stroke="#000" stroke-width="0.95" stroke-linecap="round"/>
<text x="983" y="616.2" font-size="7.4">OH</text>
<line x1="973.8" y1="619.8" x2="973.8" y2="629.9" stroke="#000" stroke-width="0.95" stroke-linecap="round"/>
<text x="973.8" y="637.25" font-size="7.4" text-anchor="middle">H</text>
<text x="898.2" y="652.9" font-size="21.6">3<tspan font-style="italic">β</tspan>-tropanol</text>
<line x1="948.6" y1="659" x2="944.5" y2="672.33" stroke="#000" stroke-width="2.4"/>
<polygon points="941,683.7 938.72,670.03 950.57,673.67" fill="#000"/>
<line x1="968.2" y1="751.04" x2="974.39" y2="757.62" stroke="#000" stroke-width="0.95" stroke-linecap="round"/>
<text x="977.68" y="764.63" font-size="7.4" text-anchor="middle">N</text>
<line x1="982.18" y1="764.34" x2="990.12" y2="769.17" stroke="#000" stroke-width="0.95" stroke-linecap="round"/>
<line x1="990.12" y1="769.17" x2="1005.1" y2="769.17" stroke="#000" stroke-width="0.95" stroke-linecap="round"/>
<line x1="1005.1" y1="769.17" x2="1014.5" y2="792.3" stroke="#000" stroke-width="0.95" stroke-linecap="round"/>
<line x1="979.47" y1="766.49" x2="986.4" y2="783.15" stroke="#000" stroke-width="0.95" stroke-linecap="round"/>
<line x1="990.12" y1="769.17" x2="985.26" y2="772.09" stroke="#000" stroke-width="0.95" stroke-linecap="round"/>
<line x1="980.39" y1="775" x2="977.96" y2="776.46" stroke="#000" stroke-width="0.95" stroke-linecap="round"/>
<line x1="977.96" y1="776.46" x2="973.89" y2="791.23" stroke="#000" stroke-width="0.95" stroke-linecap="round"/>
<polygon points="974.38,791.99 987.06,784.17 985.74,782.13 973.39,790.46" fill="#000"/>
<line x1="986.04" y1="783.15" x2="1002.47" y2="783.15" stroke="#000" stroke-width="2.43"/>
<polygon points="1001.09,784.37 1014.28,792.61 1014.72,791.99 1002.88,781.92" fill="#000"/>
<line x1="1014.5" y1="792.3" x2="1022.58" y2="788.26" stroke="#000" stroke-width="0.95" stroke-linecap="round"/>
<text x="1027.21" y="788.67" font-size="7.6" text-anchor="middle">O</text>
<line x1="1032.18" y1="788.2" x2="1040.32" y2="792.7" stroke="#000" stroke-width="0.95" stroke-linecap="round"/>
<line x1="1041.78" y1="792.9" x2="1041.78" y2="803.29" stroke="#000" stroke-width="0.95" stroke-linecap="round"/>
<line x1="1038.93" y1="792.9" x2="1038.93" y2="803.29" stroke="#000" stroke-width="0.95" stroke-linecap="round"/>
<text x="1040.12" y="810.84" font-size="7.6" text-anchor="middle">O</text>
<line x1="1040.32" y1="792.7" x2="1053.1" y2="785.48" stroke="#000" stroke-width="0.95" stroke-linecap="round"/>
<line x1="1053.1" y1="785.48" x2="1053.1" y2="770.92" stroke="#000" stroke-width="0.95" stroke-linecap="round"/>
<line x1="1053.1" y1="785.48" x2="1065.94" y2="792.9" stroke="#000" stroke-width="0.95" stroke-linecap="round"/>
<line x1="1065.94" y1="792.9" x2="1078.85" y2="785.61" stroke="#000" stroke-width="0.95" stroke-linecap="round"/>
<line x1="1055.88" y1="783.89" x2="1066.34" y2="789.92" stroke="#000" stroke-width="0.95" stroke-linecap="round"/>
<line x1="1014.5" y1="792.3" x2="1014.57" y2="803.75" stroke="#000" stroke-width="0.95" stroke-linecap="round"/>
<text x="1014.57" y="811.04" font-size="7.6" text-anchor="middle">H</text>
<line x1="947.3" y1="782.4" x2="928.4" y2="782.4" stroke="#000" stroke-width="2.4"/>
<polygon points="916.2,782.4 928.9,776.05 928.9,788.75" fill="#000"/>
<text x="915.4" y="833" font-size="21.6">3<tspan font-style="italic">β</tspan>-tigloyloxytropane</text>
<line x1="957.51" y1="893.49" x2="963.87" y2="900.25" stroke="#000" stroke-width="0.95" stroke-linecap="round"/>
<text x="967.25" y="907.39" font-size="7.4" text-anchor="middle">N</text>
<line x1="971.88" y1="907.16" x2="980.04" y2="912.12" stroke="#000" stroke-width="0.95" stroke-linecap="round"/>
<line x1="980.04" y1="912.12" x2="995.43" y2="912.12" stroke="#000" stroke-width="0.95" stroke-linecap="round"/>
<line x1="995.43" y1="912.12" x2="1005.1" y2="935.9" stroke="#000" stroke-width="0.95" stroke-linecap="round"/>
<line x1="969.09" y1="909.37" x2="976.21" y2="926.49" stroke="#000" stroke-width="0.95" stroke-linecap="round"/>
<line x1="980.04" y1="912.12" x2="975.04" y2="915.12" stroke="#000" stroke-width="0.95" stroke-linecap="round"/>
<line x1="970.04" y1="918.12" x2="967.54" y2="919.62" stroke="#000" stroke-width="0.95" stroke-linecap="round"/>
<line x1="967.54" y1="919.62" x2="963.35" y2="934.8" stroke="#000" stroke-width="0.95" stroke-linecap="round"/>
<polygon points="963.86,935.58 976.89,927.54 975.54,925.44 962.84,934.01" fill="#000"/>
<line x1="975.84" y1="926.49" x2="992.74" y2="926.49" stroke="#000" stroke-width="2.5"/>
<polygon points="991.32,927.75 1004.88,936.21 1005.32,935.59 993.16,925.23" fill="#000"/>
<line x1="1005.1" y1="935.9" x2="1013.4" y2="931.68" stroke="#000" stroke-width="0.95" stroke-linecap="round"/>
<text x="1018.17" y="931.95" font-size="7.6" text-anchor="middle">O</text>
<line x1="1023.07" y1="931.34" x2="1031.44" y2="935.97" stroke="#000" stroke-width="0.95" stroke-linecap="round"/>
<line x1="1033" y1="936.17" x2="1033" y2="946.86" stroke="#000" stroke-width="0.95" stroke-linecap="round"/>
<line x1="1030.08" y1="936.17" x2="1030.08" y2="946.86" stroke="#000" stroke-width="0.95" stroke-linecap="round"/>
<text x="1031.44" y="954.55" font-size="7.6" text-anchor="middle">O</text>
<line x1="1031.44" y1="935.97" x2="1044.98" y2="928.82" stroke="#000" stroke-width="0.95" stroke-linecap="round"/>
<line x1="1005.1" y1="935.9" x2="1005.24" y2="947.33" stroke="#000" stroke-width="0.95" stroke-linecap="round"/>
<text x="1005.24" y="954.75" font-size="7.6" text-anchor="middle">H</text>
<line x1="942.3" y1="924.9" x2="922.1" y2="924.9" stroke="#000" stroke-width="2.4"/>
<polygon points="909.9,924.9 922.6,918.55 922.6,931.25" fill="#000"/>
<text x="920.4" y="979.8" font-size="21.6">3<tspan font-style="italic">β</tspan>-acetoxytropane</text>
<text x="1252" y="490.8" font-size="28.3" stroke="#000" stroke-width="0.9">C</text>
<rect x="1427.4" y="607" width="36.2" height="84" fill="#fe0000" stroke="#000" stroke-width="2.8"/>
<rect x="1484.4" y="587.6" width="36.6" height="103.4" fill="#fea040" stroke="#000" stroke-width="2.8"/>
<line x1="1349.8" y1="497.4" x2="1349.8" y2="692.2" stroke="#000" stroke-width="2.4"/>
<line x1="1348.6" y1="691" x2="1541.8" y2="691" stroke="#000" stroke-width="2.4"/>
<line x1="1341.6" y1="498.9" x2="1349.8" y2="498.9" stroke="#000" stroke-width="2.2"/>
<text x="1338.8" y="504.1" font-size="14.5" text-anchor="end" font-weight="bold">0.20</text>
<line x1="1341.6" y1="547.4" x2="1349.8" y2="547.4" stroke="#000" stroke-width="2.2"/>
<text x="1338.8" y="552.6" font-size="14.5" text-anchor="end" font-weight="bold">0.15</text>
<line x1="1341.6" y1="595" x2="1349.8" y2="595" stroke="#000" stroke-width="2.2"/>
<text x="1338.8" y="600.2" font-size="14.5" text-anchor="end" font-weight="bold">0.10</text>
<line x1="1341.6" y1="643" x2="1349.8" y2="643" stroke="#000" stroke-width="2.2"/>
<text x="1338.8" y="648.2" font-size="14.5" text-anchor="end" font-weight="bold">0.05</text>
<line x1="1341.6" y1="691" x2="1349.8" y2="691" stroke="#000" stroke-width="2.2"/>
<text x="1338.8" y="696.2" font-size="14.5" text-anchor="end" font-weight="bold">0.00</text>
<line x1="1387.3" y1="691" x2="1387.3" y2="698.8" stroke="#000" stroke-width="2.2"/>
<line x1="1445.1" y1="691" x2="1445.1" y2="698.8" stroke="#000" stroke-width="2.2"/>
<line x1="1502.6" y1="691" x2="1502.6" y2="698.8" stroke="#000" stroke-width="2.2"/>
<line x1="1369.8" y1="691" x2="1404.8" y2="691" stroke="#000" stroke-width="3.2"/>
<line x1="1445.1" y1="593.8" x2="1445.1" y2="617.2" stroke="#000" stroke-width="1.3"/>
<line x1="1435.5" y1="593.8" x2="1454.7" y2="593.8" stroke="#000" stroke-width="1.3"/>
<line x1="1435.5" y1="617.2" x2="1454.7" y2="617.2" stroke="#000" stroke-width="1.3"/>
<line x1="1502.6" y1="549.2" x2="1502.6" y2="623.2" stroke="#000" stroke-width="1.3"/>
<line x1="1493" y1="549.2" x2="1512.2" y2="549.2" stroke="#000" stroke-width="1.3"/>
<line x1="1493" y1="623.2" x2="1512.2" y2="623.2" stroke="#000" stroke-width="1.3"/>
<circle cx="1372.2" cy="691" r="4.1" fill="#000"/>
<circle cx="1387.3" cy="691" r="4.1" fill="#000"/>
<circle cx="1403" cy="691" r="4.1" fill="#000"/>
<circle cx="1445.1" cy="591.7" r="4.1" fill="#000"/>
<circle cx="1437.6" cy="614.2" r="4.1" fill="#000"/>
<circle cx="1452.6" cy="611.8" r="4.1" fill="#000"/>
<circle cx="1502.6" cy="547.1" r="4.1" fill="#000"/>
<circle cx="1502.6" cy="590.8" r="4.1" fill="#000"/>
<circle cx="1502.6" cy="620.8" r="4.1" fill="#000"/>
<text x="1388.3" y="680.8" font-size="14.8" text-anchor="middle">N.D.</text>
<text x="1277.2" y="594.6" font-size="15.8" text-anchor="middle" font-weight="bold" transform="rotate(-90 1277.2 594.6)">The content of</text>
<text x="1299.8" y="594.7" font-size="15.8" text-anchor="middle" font-weight="bold" transform="rotate(-90 1299.8 594.7)">tropinone (μg.g<tspan font-size="11" dy="-7.2">-1</tspan><tspan dy="7.2" dx="1"> DW)</tspan></text>
<text x="1393.1" y="711.5" font-size="14.6" text-anchor="end" font-weight="bold" transform="rotate(-45 1393.1 711.5)">Control</text>
<text x="1450.9" y="711.5" font-size="14.6" text-anchor="end" font-weight="bold" transform="rotate(-45 1450.9 711.5)">TS</text>
<text x="1506.4" y="710" font-size="14.6" text-anchor="end" font-weight="bold" transform="rotate(-45 1506.4 710)">TS<tspan font-size="10.8" font-weight="normal" dy="-5.6">S40T</tspan></text>
<text x="1586.5" y="492.3" font-size="29.57" stroke="#000" stroke-width="0.9">D</text>
<rect x="1756" y="565.2" width="38.2" height="126.8" fill="#fe0000" stroke="#000" stroke-width="2.8"/>
<rect x="1815.9" y="537.6" width="38.1" height="154.4" fill="#fea040" stroke="#000" stroke-width="2.8"/>
<line x1="1674.2" y1="489.4" x2="1674.2" y2="693.2" stroke="#000" stroke-width="2.4"/>
<line x1="1673" y1="692" x2="1875.4" y2="692" stroke="#000" stroke-width="2.4"/>
<line x1="1665.63" y1="490.8" x2="1674.2" y2="490.8" stroke="#000" stroke-width="2.2"/>
<text x="1664.4" y="496.23" font-size="15.15" text-anchor="end" font-weight="bold">15</text>
<line x1="1665.63" y1="558.2" x2="1674.2" y2="558.2" stroke="#000" stroke-width="2.2"/>
<text x="1664.4" y="563.63" font-size="15.15" text-anchor="end" font-weight="bold">10</text>
<line x1="1665.63" y1="625.3" x2="1674.2" y2="625.3" stroke="#000" stroke-width="2.2"/>
<text x="1664.4" y="630.73" font-size="15.15" text-anchor="end" font-weight="bold">5</text>
<line x1="1665.63" y1="692" x2="1674.2" y2="692" stroke="#000" stroke-width="2.2"/>
<text x="1664.4" y="697.43" font-size="15.15" text-anchor="end" font-weight="bold">0</text>
<line x1="1714.3" y1="692" x2="1714.3" y2="700.15" stroke="#000" stroke-width="2.2"/>
<line x1="1775.1" y1="692" x2="1775.1" y2="700.15" stroke="#000" stroke-width="2.2"/>
<line x1="1835" y1="692" x2="1835" y2="700.15" stroke="#000" stroke-width="2.2"/>
<line x1="1696.8" y1="692" x2="1731.8" y2="692" stroke="#000" stroke-width="3.2"/>
<line x1="1775.1" y1="528" x2="1775.1" y2="599.5" stroke="#000" stroke-width="1.3"/>
<line x1="1765.07" y1="528" x2="1785.13" y2="528" stroke="#000" stroke-width="1.3"/>
<line x1="1765.07" y1="599.5" x2="1785.13" y2="599.5" stroke="#000" stroke-width="1.3"/>
<line x1="1835" y1="503.7" x2="1835" y2="570.8" stroke="#000" stroke-width="1.3"/>
<line x1="1824.97" y1="503.7" x2="1845.03" y2="503.7" stroke="#000" stroke-width="1.3"/>
<line x1="1824.97" y1="570.8" x2="1845.03" y2="570.8" stroke="#000" stroke-width="1.3"/>
<circle cx="1697.8" cy="692" r="4.28" fill="#000"/>
<circle cx="1714.3" cy="692" r="4.28" fill="#000"/>
<circle cx="1730.8" cy="692" r="4.28" fill="#000"/>
<circle cx="1775.1" cy="525.6" r="4.28" fill="#000"/>
<circle cx="1775.1" cy="569.9" r="4.28" fill="#000"/>
<circle cx="1775.1" cy="596.8" r="4.28" fill="#000"/>
<circle cx="1835" cy="505.5" r="4.28" fill="#000"/>
<circle cx="1835" cy="532.8" r="4.28" fill="#000"/>
<circle cx="1835" cy="572.9" r="4.28" fill="#000"/>
<text x="1715.2" y="681.6" font-size="15.47" text-anchor="middle">N.D.</text>
<text x="1610.9" y="590.4" font-size="16.51" text-anchor="middle" font-weight="bold" transform="rotate(-90 1610.9 590.4)">The content of</text>
<text x="1634" y="591.3" font-size="16.51" text-anchor="middle" font-weight="bold" transform="rotate(-90 1634 591.3)">hygrine (μg.g<tspan font-size="11.49" dy="-7.52">-1</tspan><tspan dy="7.52" dx="1"> DW)</tspan></text>
<text x="1720.1" y="713.42" font-size="15.26" text-anchor="end" font-weight="bold" transform="rotate(-45 1720.1 713.42)">Control</text>
<text x="1780.9" y="713.42" font-size="15.26" text-anchor="end" font-weight="bold" transform="rotate(-45 1780.9 713.42)">TS</text>
<text x="1838.8" y="711.92" font-size="15.26" text-anchor="end" font-weight="bold" transform="rotate(-45 1838.8 711.92)">TS<tspan font-size="11.29" font-weight="normal" dy="-5.85">S40T</tspan></text>
<text x="1126.6" y="793.3" font-size="29.57" stroke="#000" stroke-width="0.9">E</text>
<rect x="1286.5" y="913" width="37" height="96.9" fill="#fe0000" stroke="#000" stroke-width="2.8"/>
<rect x="1346.6" y="878.9" width="37.5" height="131" fill="#fea040" stroke="#000" stroke-width="2.8"/>
<line x1="1203.7" y1="807.2" x2="1203.7" y2="1011.1" stroke="#000" stroke-width="2.4"/>
<line x1="1202.5" y1="1009.9" x2="1406.3" y2="1009.9" stroke="#000" stroke-width="2.4"/>
<line x1="1195.13" y1="808.6" x2="1203.7" y2="808.6" stroke="#000" stroke-width="2.2"/>
<text x="1193.4" y="814.03" font-size="15.15" text-anchor="end" font-weight="bold">2.0</text>
<line x1="1195.13" y1="858.9" x2="1203.7" y2="858.9" stroke="#000" stroke-width="2.2"/>
<text x="1193.4" y="864.33" font-size="15.15" text-anchor="end" font-weight="bold">1.5</text>
<line x1="1195.13" y1="908.9" x2="1203.7" y2="908.9" stroke="#000" stroke-width="2.2"/>
<text x="1193.4" y="914.33" font-size="15.15" text-anchor="end" font-weight="bold">1.0</text>
<line x1="1195.13" y1="959.3" x2="1203.7" y2="959.3" stroke="#000" stroke-width="2.2"/>
<text x="1193.4" y="964.73" font-size="15.15" text-anchor="end" font-weight="bold">0.5</text>
<line x1="1195.13" y1="1009.9" x2="1203.7" y2="1009.9" stroke="#000" stroke-width="2.2"/>
<text x="1193.4" y="1015.33" font-size="15.15" text-anchor="end" font-weight="bold">0.0</text>
<line x1="1244.7" y1="1009.9" x2="1244.7" y2="1018.05" stroke="#000" stroke-width="2.2"/>
<line x1="1304.9" y1="1009.9" x2="1304.9" y2="1018.05" stroke="#000" stroke-width="2.2"/>
<line x1="1365.2" y1="1009.9" x2="1365.2" y2="1018.05" stroke="#000" stroke-width="2.2"/>
<line x1="1227.2" y1="1009.9" x2="1262.2" y2="1009.9" stroke="#000" stroke-width="3.2"/>
<line x1="1304.9" y1="886.6" x2="1304.9" y2="936.1" stroke="#000" stroke-width="1.3"/>
<line x1="1294.87" y1="886.6" x2="1314.93" y2="886.6" stroke="#000" stroke-width="1.3"/>
<line x1="1294.87" y1="936.1" x2="1314.93" y2="936.1" stroke="#000" stroke-width="1.3"/>
<line x1="1365.2" y1="824.5" x2="1365.2" y2="930.2" stroke="#000" stroke-width="1.3"/>
<line x1="1355.17" y1="824.5" x2="1375.23" y2="824.5" stroke="#000" stroke-width="1.3"/>
<line x1="1355.17" y1="930.2" x2="1375.23" y2="930.2" stroke="#000" stroke-width="1.3"/>
<circle cx="1228.3" cy="1009.9" r="4.28" fill="#000"/>
<circle cx="1244.7" cy="1009.9" r="4.28" fill="#000"/>
<circle cx="1261" cy="1009.9" r="4.28" fill="#000"/>
<circle cx="1304.9" cy="890.8" r="4.28" fill="#000"/>
<circle cx="1304.9" cy="905" r="4.28" fill="#000"/>
<circle cx="1304.9" cy="938.6" r="4.28" fill="#000"/>
<circle cx="1365.2" cy="835.1" r="4.28" fill="#000"/>
<circle cx="1365.2" cy="860.3" r="4.28" fill="#000"/>
<circle cx="1365.2" cy="937.5" r="4.28" fill="#000"/>
<text x="1247.4" y="999.2" font-size="15.47" text-anchor="middle">N.D.</text>
<text x="1137.4" y="908.7" font-size="16.51" text-anchor="middle" font-weight="bold" transform="rotate(-90 1137.4 908.7)">The content of</text>
<text x="1161.7" y="909" font-size="16.51" text-anchor="middle" font-weight="bold" transform="rotate(-90 1161.7 909)">3<tspan font-style="italic">β</tspan>-tropanol (μg.g<tspan font-size="11.49" dy="-7.52">-1</tspan><tspan dy="7.52" dx="1"> DW)</tspan></text>
<text x="1250.5" y="1031.32" font-size="15.26" text-anchor="end" font-weight="bold" transform="rotate(-45 1250.5 1031.32)">Control</text>
<text x="1310.7" y="1031.32" font-size="15.26" text-anchor="end" font-weight="bold" transform="rotate(-45 1310.7 1031.32)">TS</text>
<text x="1369" y="1029.82" font-size="15.26" text-anchor="end" font-weight="bold" transform="rotate(-45 1369 1029.82)">TS<tspan font-size="11.29" font-weight="normal" dy="-5.85">S40T</tspan></text>
<text x="1424" y="791" font-size="28.3" stroke="#000" stroke-width="0.9">F</text>
<rect x="1565.6" y="947.1" width="35.5" height="61.9" fill="#fe0000" stroke="#000" stroke-width="2.8"/>
<rect x="1622.9" y="862.7" width="35.5" height="146.3" fill="#fea040" stroke="#000" stroke-width="2.8"/>
<line x1="1486.9" y1="815" x2="1486.9" y2="1010.2" stroke="#000" stroke-width="2.4"/>
<line x1="1485.7" y1="1009" x2="1679.8" y2="1009" stroke="#000" stroke-width="2.4"/>
<line x1="1478.7" y1="816.7" x2="1486.9" y2="816.7" stroke="#000" stroke-width="2.2"/>
<text x="1477.2" y="821.9" font-size="14.5" text-anchor="end" font-weight="bold">8</text>
<line x1="1478.7" y1="865.1" x2="1486.9" y2="865.1" stroke="#000" stroke-width="2.2"/>
<text x="1477.2" y="870.3" font-size="14.5" text-anchor="end" font-weight="bold">6</text>
<line x1="1478.7" y1="913.1" x2="1486.9" y2="913.1" stroke="#000" stroke-width="2.2"/>
<text x="1477.2" y="918.3" font-size="14.5" text-anchor="end" font-weight="bold">4</text>
<line x1="1478.7" y1="960.9" x2="1486.9" y2="960.9" stroke="#000" stroke-width="2.2"/>
<text x="1477.2" y="966.1" font-size="14.5" text-anchor="end" font-weight="bold">2</text>
<line x1="1478.7" y1="1009" x2="1486.9" y2="1009" stroke="#000" stroke-width="2.2"/>
<text x="1477.2" y="1014.2" font-size="14.5" text-anchor="end" font-weight="bold">0</text>
<line x1="1525.5" y1="1009" x2="1525.5" y2="1016.8" stroke="#000" stroke-width="2.2"/>
<line x1="1582.8" y1="1009" x2="1582.8" y2="1016.8" stroke="#000" stroke-width="2.2"/>
<line x1="1640.6" y1="1009" x2="1640.6" y2="1016.8" stroke="#000" stroke-width="2.2"/>
<line x1="1508" y1="1009" x2="1543" y2="1009" stroke="#000" stroke-width="3.2"/>
<line x1="1582.8" y1="934.4" x2="1582.8" y2="956.7" stroke="#000" stroke-width="1.3"/>
<line x1="1573.2" y1="934.4" x2="1592.4" y2="934.4" stroke="#000" stroke-width="1.3"/>
<line x1="1573.2" y1="956.7" x2="1592.4" y2="956.7" stroke="#000" stroke-width="1.3"/>
<line x1="1640.6" y1="842.4" x2="1640.6" y2="881.3" stroke="#000" stroke-width="1.3"/>
<line x1="1631" y1="842.4" x2="1650.2" y2="842.4" stroke="#000" stroke-width="1.3"/>
<line x1="1631" y1="881.3" x2="1650.2" y2="881.3" stroke="#000" stroke-width="1.3"/>
<circle cx="1510.1" cy="1009" r="4.1" fill="#000"/>
<circle cx="1525.5" cy="1009" r="4.1" fill="#000"/>
<circle cx="1540.8" cy="1009" r="4.1" fill="#000"/>
<circle cx="1575.5" cy="936.3" r="4.1" fill="#000"/>
<circle cx="1590.9" cy="942.2" r="4.1" fill="#000"/>
<circle cx="1582.8" cy="957.9" r="4.1" fill="#000"/>
<circle cx="1640.6" cy="839.3" r="4.1" fill="#000"/>
<circle cx="1640.6" cy="868.4" r="4.1" fill="#000"/>
<circle cx="1640.6" cy="876.8" r="4.1" fill="#000"/>
<text x="1529.4" y="998.7" font-size="14.8" text-anchor="middle">N.D.</text>
<text x="1437.4" y="912.6" font-size="15.8" text-anchor="middle" font-weight="bold" transform="rotate(-90 1437.4 912.6)">The content of</text>
<text x="1460.9" y="912.6" font-size="15.8" text-anchor="middle" font-weight="bold" transform="rotate(-90 1460.9 912.6)">3<tspan font-style="italic">β</tspan>-tigloyloxytropane (μg.g<tspan font-size="11" dy="-7.2">-1</tspan><tspan dy="7.2" dx="1"> DW)</tspan></text>
<text x="1531.3" y="1029.5" font-size="14.6" text-anchor="end" font-weight="bold" transform="rotate(-45 1531.3 1029.5)">Control</text>
<text x="1588.6" y="1029.5" font-size="14.6" text-anchor="end" font-weight="bold" transform="rotate(-45 1588.6 1029.5)">TS</text>
<text x="1644.4" y="1028" font-size="14.6" text-anchor="end" font-weight="bold" transform="rotate(-45 1644.4 1028)">TS<tspan font-size="10.8" font-weight="normal" dy="-5.6">S40T</tspan></text>
<path d="M1583.1,922.4 V816.9 H1641 V827.9" fill="none" stroke="#000" stroke-width="2.1" stroke-linejoin="miter" stroke-linecap="butt"/>
<text x="1612.05" y="814.9" font-size="20.5" text-anchor="middle" font-weight="bold" style="font-family:DejaVu Sans,sans-serif" stroke="#000" stroke-width="0.8" stroke-linejoin="round">**</text>
<text x="1695.2" y="791" font-size="29.57" stroke="#000" stroke-width="0.9">G</text>
<rect x="1865.6" y="990.4" width="36.9" height="19.5" fill="#fe0000" stroke="#000" stroke-width="2.8"/>
<rect x="1925.4" y="878.9" width="36.4" height="131" fill="#fea040" stroke="#000" stroke-width="2.8"/>
<line x1="1784.1" y1="808.9" x2="1784.1" y2="1011.1" stroke="#000" stroke-width="2.4"/>
<line x1="1782.9" y1="1009.9" x2="1984" y2="1009.9" stroke="#000" stroke-width="2.4"/>
<line x1="1775.53" y1="810.5" x2="1784.1" y2="810.5" stroke="#000" stroke-width="2.2"/>
<text x="1774" y="815.93" font-size="15.15" text-anchor="end" font-weight="bold">0.20</text>
<line x1="1775.53" y1="860" x2="1784.1" y2="860" stroke="#000" stroke-width="2.2"/>
<text x="1774" y="865.43" font-size="15.15" text-anchor="end" font-weight="bold">0.15</text>
<line x1="1775.53" y1="909.8" x2="1784.1" y2="909.8" stroke="#000" stroke-width="2.2"/>
<text x="1774" y="915.23" font-size="15.15" text-anchor="end" font-weight="bold">0.10</text>
<line x1="1775.53" y1="959.5" x2="1784.1" y2="959.5" stroke="#000" stroke-width="2.2"/>
<text x="1774" y="964.93" font-size="15.15" text-anchor="end" font-weight="bold">0.05</text>
<line x1="1775.53" y1="1009.9" x2="1784.1" y2="1009.9" stroke="#000" stroke-width="2.2"/>
<text x="1774" y="1015.33" font-size="15.15" text-anchor="end" font-weight="bold">0.00</text>
<line x1="1823.8" y1="1009.9" x2="1823.8" y2="1018.05" stroke="#000" stroke-width="2.2"/>
<line x1="1883.9" y1="1009.9" x2="1883.9" y2="1018.05" stroke="#000" stroke-width="2.2"/>
<line x1="1943.4" y1="1009.9" x2="1943.4" y2="1018.05" stroke="#000" stroke-width="2.2"/>
<line x1="1806.3" y1="1009.9" x2="1841.3" y2="1009.9" stroke="#000" stroke-width="3.2"/>
<line x1="1883.9" y1="975.5" x2="1883.9" y2="1000.1" stroke="#000" stroke-width="1.3"/>
<line x1="1873.87" y1="975.5" x2="1893.93" y2="975.5" stroke="#000" stroke-width="1.3"/>
<line x1="1873.87" y1="1000.1" x2="1893.93" y2="1000.1" stroke="#000" stroke-width="1.3"/>
<line x1="1943.4" y1="842.7" x2="1943.4" y2="912.6" stroke="#000" stroke-width="1.3"/>
<line x1="1933.37" y1="842.7" x2="1953.43" y2="842.7" stroke="#000" stroke-width="1.3"/>
<line x1="1933.37" y1="912.6" x2="1953.43" y2="912.6" stroke="#000" stroke-width="1.3"/>
<circle cx="1807.8" cy="1009.9" r="4.28" fill="#000"/>
<circle cx="1823.8" cy="1009.9" r="4.28" fill="#000"/>
<circle cx="1839.7" cy="1009.9" r="4.28" fill="#000"/>
<circle cx="1883.9" cy="973.5" r="4.28" fill="#000"/>
<circle cx="1875.5" cy="997.3" r="4.28" fill="#000"/>
<circle cx="1891.4" cy="994.2" r="4.28" fill="#000"/>
<circle cx="1935.1" cy="853.3" r="4.28" fill="#000"/>
<circle cx="1951.5" cy="860.9" r="4.28" fill="#000"/>
<circle cx="1943.4" cy="917.6" r="4.28" fill="#000"/>
<text x="1827.6" y="999.2" font-size="15.47" text-anchor="middle">N.D.</text>
<text x="1709.2" y="908.9" font-size="16.51" text-anchor="middle" font-weight="bold" transform="rotate(-90 1709.2 908.9)">The content of</text>
<text x="1734.3" y="910.2" font-size="16.51" text-anchor="middle" font-weight="bold" transform="rotate(-90 1734.3 910.2)">3<tspan font-style="italic">β</tspan>-acetoxytropan (μg.g<tspan font-size="11.49" dy="-7.52">-1</tspan><tspan dy="7.52" dx="1"> DW)</tspan></text>
<text x="1829.6" y="1031.32" font-size="15.26" text-anchor="end" font-weight="bold" transform="rotate(-45 1829.6 1031.32)">Control</text>
<text x="1889.7" y="1031.32" font-size="15.26" text-anchor="end" font-weight="bold" transform="rotate(-45 1889.7 1031.32)">TS</text>
<text x="1947.2" y="1029.82" font-size="15.26" text-anchor="end" font-weight="bold" transform="rotate(-45 1947.2 1029.82)">TS<tspan font-size="11.29" font-weight="normal" dy="-5.85">S40T</tspan></text>
<path d="M1884.2,961.5 V819.1 H1943.8 V830.1" fill="none" stroke="#000" stroke-width="2.1" stroke-linejoin="miter" stroke-linecap="butt"/>
<text x="1914" y="817.1" font-size="21.42" text-anchor="middle" font-weight="bold" style="font-family:DejaVu Sans,sans-serif" stroke="#000" stroke-width="0.8" stroke-linejoin="round">**</text>
</svg>
</body></html>
